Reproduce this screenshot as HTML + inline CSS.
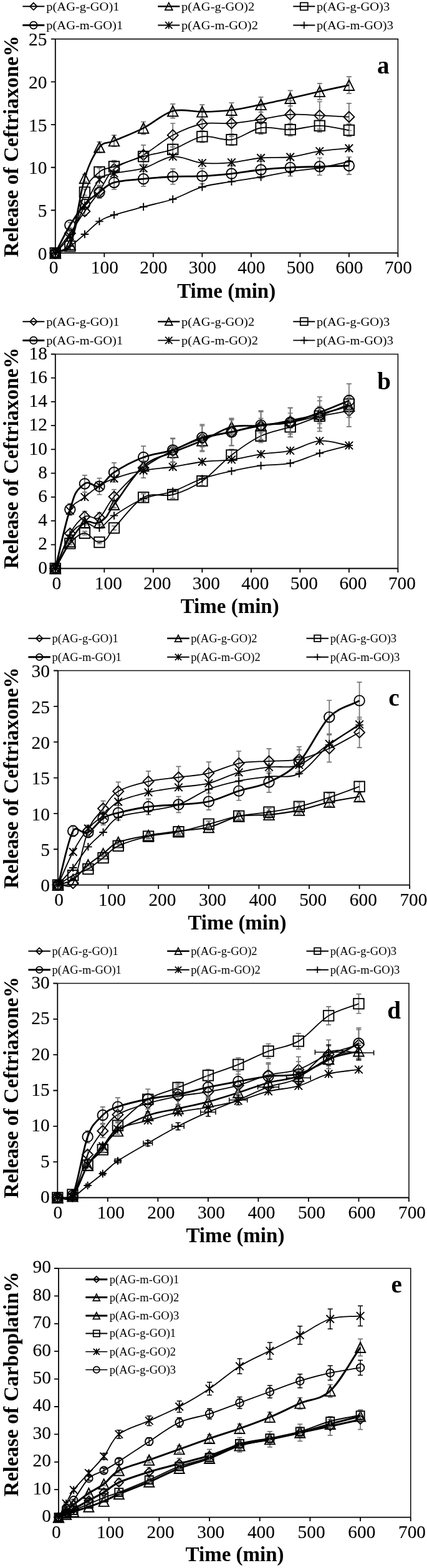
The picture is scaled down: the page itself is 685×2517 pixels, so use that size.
<!DOCTYPE html><html><head><meta charset="utf-8"><title>Release profiles</title><style>html,body{margin:0;padding:0;background:#fff}svg{display:block}text{font-family:"Liberation Serif",serif;fill:#000}.tk{stroke:#000;stroke-width:.12px}</style></head><body>
<svg width="685" height="2517" viewBox="0 0 685 2517">
<rect width="685" height="2517" fill="#fff"/>
<g>
<path d="M88.8 62.6H638.4V406.2" fill="none" stroke="#111" stroke-width="1.6"/>
<path d="M88.8 62.6V406.2H638.4M88.8 406.2h-7M88.8 337.48h-7M88.8 268.76h-7M88.8 200.04h-7M88.8 131.32h-7M88.8 62.6h-7M88.8 406.2v6.5M167.31 406.2v6.5M245.83 406.2v6.5M324.34 406.2v6.5M402.86 406.2v6.5M481.37 406.2v6.5M559.89 406.2v6.5M638.4 406.2v6.5" fill="none" stroke="#000" stroke-width="1.8"/>
<text transform="translate(75.4 416.85) scale(1.03 1)" font-size="28.5" text-anchor="end" class="tk">0</text>
<text transform="translate(75.4 348.13) scale(1.03 1)" font-size="28.5" text-anchor="end" class="tk">5</text>
<text transform="translate(75.4 279.41) scale(1.03 1)" font-size="28.5" text-anchor="end" class="tk">10</text>
<text transform="translate(75.4 210.69) scale(1.03 1)" font-size="28.5" text-anchor="end" class="tk">15</text>
<text transform="translate(75.4 141.97) scale(1.03 1)" font-size="28.5" text-anchor="end" class="tk">20</text>
<text transform="translate(75.4 73.25) scale(1.03 1)" font-size="28.5" text-anchor="end" class="tk">25</text>
<text transform="translate(86.2 439.2) scale(1.03 1)" font-size="28.5" text-anchor="middle" class="tk">0</text>
<text transform="translate(167.81 439.2) scale(1.03 1)" font-size="28.5" text-anchor="middle" class="tk">100</text>
<text transform="translate(246.33 439.2) scale(1.03 1)" font-size="28.5" text-anchor="middle" class="tk">200</text>
<text transform="translate(324.84 439.2) scale(1.03 1)" font-size="28.5" text-anchor="middle" class="tk">300</text>
<text transform="translate(403.36 439.2) scale(1.03 1)" font-size="28.5" text-anchor="middle" class="tk">400</text>
<text transform="translate(481.87 439.2) scale(1.03 1)" font-size="28.5" text-anchor="middle" class="tk">500</text>
<text transform="translate(560.39 439.2) scale(1.03 1)" font-size="28.5" text-anchor="middle" class="tk">600</text>
<text transform="translate(638.9 439.2) scale(1.03 1)" font-size="28.5" text-anchor="middle" class="tk">700</text>
<text x="363.2" y="477.5" font-size="33" font-weight="bold" text-anchor="middle">Time (min)</text>
<text transform="translate(28.6 235) rotate(-90)" font-size="33.5" font-weight="bold" text-anchor="middle">Release of Ceftriaxone%</text>
<text x="605" y="118.2" font-size="39.2" font-weight="bold">a</text>
<path d="M112.35 371.43V377.75M108.35 371.43h8M108.35 377.75h8M135.91 332.57V345.96M131.91 332.57h8M131.91 345.96h8M159.46 297.35V317.14M155.46 297.35h8M155.46 317.14h8M183.02 257.59V284.61M179.02 257.59h8M179.02 284.61h8M230.13 232.94V264.44M226.13 232.94h8M226.13 264.44h8M277.23 198.02V235.87M273.23 198.02h8M273.23 235.87h8M324.34 178.06V219.54M320.34 178.06h8M320.34 219.54h8M371.45 177.16V218.8M367.45 177.16h8M367.45 218.8h8M418.56 170.05V212.99M414.56 170.05h8M414.56 212.99h8M465.67 161.74V206.18M461.67 161.74h8M461.67 206.18h8M512.78 163.25V207.42M508.78 163.25h8M508.78 207.42h8M559.89 165.82V209.52M555.89 165.82h8M555.89 209.52h8" fill="none" stroke="#747474" stroke-width="1.7"/>
<path d="M88.8 406.2C96.65 395.66 104.5 385.74 112.35 374.59C120.21 363.43 128.06 350.49 135.91 339.27C143.76 328.04 151.61 318.6 159.46 307.24C167.31 295.88 171.24 280.85 183.02 271.1C194.79 261.34 214.42 257.72 230.13 248.69C245.83 239.67 261.53 225.26 277.23 216.95C292.94 208.63 308.64 201.96 324.34 198.8C340.05 195.64 355.75 199.19 371.45 197.98C387.15 196.76 402.86 193.86 418.56 191.52C434.26 189.18 449.97 184.99 465.67 183.96C481.37 182.93 497.07 184.72 512.78 185.33C528.48 185.95 544.18 186.89 559.89 187.67" fill="none" stroke="#000" stroke-width="1.81" stroke-linejoin="round"/>
<path d="M88.8 397.7L97.3 406.2L88.8 414.7L80.3 406.2Z" fill="none" stroke="#000" stroke-width="1.9"/>
<path d="M112.35 366.09L120.85 374.59L112.35 383.09L103.85 374.59Z" fill="none" stroke="#000" stroke-width="1.9"/>
<path d="M135.91 330.77L144.41 339.27L135.91 347.77L127.41 339.27Z" fill="none" stroke="#000" stroke-width="1.9"/>
<path d="M159.46 298.74L167.96 307.24L159.46 315.74L150.96 307.24Z" fill="none" stroke="#000" stroke-width="1.9"/>
<path d="M183.02 262.6L191.52 271.1L183.02 279.6L174.52 271.1Z" fill="none" stroke="#000" stroke-width="1.9"/>
<path d="M230.13 240.19L238.63 248.69L230.13 257.19L221.63 248.69Z" fill="none" stroke="#000" stroke-width="1.9"/>
<path d="M277.23 208.45L285.73 216.95L277.23 225.45L268.73 216.95Z" fill="none" stroke="#000" stroke-width="1.9"/>
<path d="M324.34 190.3L332.84 198.8L324.34 207.3L315.84 198.8Z" fill="none" stroke="#000" stroke-width="1.9"/>
<path d="M371.45 189.48L379.95 197.98L371.45 206.48L362.95 197.98Z" fill="none" stroke="#000" stroke-width="1.9"/>
<path d="M418.56 183.02L427.06 191.52L418.56 200.02L410.06 191.52Z" fill="none" stroke="#000" stroke-width="1.9"/>
<path d="M465.67 175.46L474.17 183.96L465.67 192.46L457.17 183.96Z" fill="none" stroke="#000" stroke-width="1.9"/>
<path d="M512.78 176.83L521.28 185.33L512.78 193.83L504.28 185.33Z" fill="none" stroke="#000" stroke-width="1.9"/>
<path d="M559.89 179.17L568.39 187.67L559.89 196.17L551.39 187.67Z" fill="none" stroke="#000" stroke-width="1.9"/>
<path d="M135.91 279.93V291.95M131.91 279.93h8M131.91 291.95h8M159.46 227.83V244.82M155.46 227.83h8M155.46 244.82h8M183.02 217.15V235.16M179.02 217.15h8M179.02 235.16h8M230.13 195.5V215.57M226.13 195.5h8M226.13 215.57h8M277.23 166.93V189.72M273.23 166.93h8M273.23 189.72h8M324.34 168.09V190.76M320.34 168.09h8M320.34 190.76h8M371.45 165.2V188.15M367.45 165.2h8M367.45 188.15h8M418.56 155.96V179.8M414.56 155.96h8M414.56 179.8h8M465.67 145.28V170.13M461.67 145.28h8M461.67 170.13h8M512.78 133.88V159.82M508.78 133.88h8M508.78 159.82h8M559.89 123.2V150.16M555.89 123.2h8M555.89 150.16h8" fill="none" stroke="#747474" stroke-width="1.7"/>
<path d="M88.8 406.2C100.58 399.33 107.38 405.15 112.35 392.46C120.21 372.41 128.06 311.96 135.91 285.94C143.76 259.92 151.61 246.29 159.46 236.32C167.4 226.25 171.26 231.28 183.02 226.15C194.79 221.02 214.42 213.51 230.13 205.54C245.83 197.57 261.53 182.68 277.23 178.32C292.94 173.97 308.64 179.7 324.34 179.42C340.05 179.15 355.75 178.6 371.45 176.68C387.15 174.75 402.86 171.04 418.56 167.88C434.26 164.72 449.97 161.21 465.67 157.71C481.37 154.2 497.07 150.36 512.78 146.85C528.48 143.35 544.18 140.07 559.89 136.68" fill="none" stroke="#000" stroke-width="2.61" stroke-linejoin="round"/>
<path d="M88.8 397.95L97.05 414.45L80.55 414.45Z" fill="none" stroke="#000" stroke-width="1.9" stroke-linejoin="miter"/>
<path d="M112.35 384.21L120.6 400.71L104.1 400.71Z" fill="none" stroke="#000" stroke-width="1.9" stroke-linejoin="miter"/>
<path d="M135.91 277.69L144.16 294.19L127.66 294.19Z" fill="none" stroke="#000" stroke-width="1.9" stroke-linejoin="miter"/>
<path d="M159.46 228.07L167.71 244.57L151.21 244.57Z" fill="none" stroke="#000" stroke-width="1.9" stroke-linejoin="miter"/>
<path d="M183.02 217.9L191.27 234.4L174.77 234.4Z" fill="none" stroke="#000" stroke-width="1.9" stroke-linejoin="miter"/>
<path d="M230.13 197.29L238.38 213.79L221.88 213.79Z" fill="none" stroke="#000" stroke-width="1.9" stroke-linejoin="miter"/>
<path d="M277.23 170.07L285.48 186.57L268.98 186.57Z" fill="none" stroke="#000" stroke-width="1.9" stroke-linejoin="miter"/>
<path d="M324.34 171.17L332.59 187.67L316.09 187.67Z" fill="none" stroke="#000" stroke-width="1.9" stroke-linejoin="miter"/>
<path d="M371.45 168.43L379.7 184.93L363.2 184.93Z" fill="none" stroke="#000" stroke-width="1.9" stroke-linejoin="miter"/>
<path d="M418.56 159.63L426.81 176.13L410.31 176.13Z" fill="none" stroke="#000" stroke-width="1.9" stroke-linejoin="miter"/>
<path d="M465.67 149.46L473.92 165.96L457.42 165.96Z" fill="none" stroke="#000" stroke-width="1.9" stroke-linejoin="miter"/>
<path d="M512.78 138.6L521.03 155.1L504.53 155.1Z" fill="none" stroke="#000" stroke-width="1.9" stroke-linejoin="miter"/>
<path d="M559.89 128.43L568.14 144.93L551.64 144.93Z" fill="none" stroke="#000" stroke-width="1.9" stroke-linejoin="miter"/>
<path d="M135.91 303.74V313.5M131.91 303.74h8M131.91 313.5h8M159.46 269.54V282.55M155.46 269.54h8M155.46 282.55h8M183.02 260.44V274.33M179.02 260.44h8M179.02 274.33h8M230.13 243.42V258.92M226.13 243.42h8M226.13 258.92h8M277.23 231.58V248.21M273.23 231.58h8M273.23 248.21h8M324.34 209.94V228.63M320.34 209.94h8M320.34 228.63h8M371.45 215.13V233.33M367.45 215.13h8M367.45 233.33h8M418.56 195.22V215.31M414.56 195.22h8M414.56 215.31h8M465.67 198.25V218.05M461.67 198.25h8M461.67 218.05h8M512.78 191.61V212.05M508.78 191.61h8M508.78 212.05h8M559.89 199.11V218.83M555.89 199.11h8M555.89 218.83h8" fill="none" stroke="#747474" stroke-width="1.7"/>
<path d="M88.8 406.2C100.58 400.7 106.7 406.91 112.35 395.2C120.21 378.94 128.06 328.48 135.91 308.62C143.3 289.93 144.34 289.28 159.46 276.04C167.31 269.17 171.24 271.53 183.02 267.39C194.79 263.24 214.42 255.75 230.13 251.17C245.83 246.59 261.53 245.21 277.23 239.9C292.94 234.58 308.64 221.89 324.34 219.28C340.05 216.67 355.75 226.57 371.45 224.23C387.15 221.89 402.86 207.94 418.56 205.26C434.26 202.58 449.97 208.72 465.67 208.15C481.37 207.58 497.07 201.69 512.78 201.83C528.48 201.96 544.18 206.59 559.89 208.97" fill="none" stroke="#000" stroke-width="1.81" stroke-linejoin="round"/>
<rect x="80.55" y="397.95" width="16.5" height="16.5" fill="none" stroke="#000" stroke-width="1.9"/>
<rect x="104.1" y="386.95" width="16.5" height="16.5" fill="none" stroke="#000" stroke-width="1.9"/>
<rect x="127.66" y="300.37" width="16.5" height="16.5" fill="none" stroke="#000" stroke-width="1.9"/>
<rect x="151.21" y="267.79" width="16.5" height="16.5" fill="none" stroke="#000" stroke-width="1.9"/>
<rect x="174.77" y="259.14" width="16.5" height="16.5" fill="none" stroke="#000" stroke-width="1.9"/>
<rect x="221.88" y="242.92" width="16.5" height="16.5" fill="none" stroke="#000" stroke-width="1.9"/>
<rect x="268.98" y="231.65" width="16.5" height="16.5" fill="none" stroke="#000" stroke-width="1.9"/>
<rect x="316.09" y="211.03" width="16.5" height="16.5" fill="none" stroke="#000" stroke-width="1.9"/>
<rect x="363.2" y="215.98" width="16.5" height="16.5" fill="none" stroke="#000" stroke-width="1.9"/>
<rect x="410.31" y="197.01" width="16.5" height="16.5" fill="none" stroke="#000" stroke-width="1.9"/>
<rect x="457.42" y="199.9" width="16.5" height="16.5" fill="none" stroke="#000" stroke-width="1.9"/>
<rect x="504.53" y="193.58" width="16.5" height="16.5" fill="none" stroke="#000" stroke-width="1.9"/>
<rect x="551.64" y="200.72" width="16.5" height="16.5" fill="none" stroke="#000" stroke-width="1.9"/>
<path d="M112.35 357.07V366M108.35 357.07h8M108.35 366h8M135.91 320.03V335.69M131.91 320.03h8M131.91 335.69h8M159.46 298.86V318.38M155.46 298.86h8M155.46 318.38h8M183.02 281.62V304.27M179.02 281.62h8M179.02 304.27h8M230.13 275.27V299.08M226.13 275.27h8M226.13 299.08h8M277.23 271.19V295.74M273.23 271.19h8M273.23 295.74h8M324.34 270.29V295M320.34 270.29h8M320.34 295h8M371.45 266.05V291.53M367.45 266.05h8M367.45 291.53h8M418.56 259.1V285.84M414.56 259.1h8M414.56 285.84h8M465.67 255.17V282.63M461.67 255.17h8M461.67 282.63h8M512.78 253.5V281.27M508.78 253.5h8M508.78 281.27h8M559.89 251.99V280.03M555.89 251.99h8M555.89 280.03h8" fill="none" stroke="#747474" stroke-width="1.7"/>
<path d="M88.8 406.2C96.65 391.31 104.5 374.59 112.35 361.53C120.21 348.48 128.06 336.68 135.91 327.86C143.76 319.04 151.61 314.44 159.46 308.62C167.31 302.8 171.24 296.52 183.02 292.95C194.79 289.38 214.42 288.76 230.13 287.18C245.83 285.6 261.53 284.22 277.23 283.47C292.94 282.71 308.64 283.42 324.34 282.64C340.05 281.86 355.75 280.49 371.45 278.79C387.15 277.1 402.86 274.12 418.56 272.47C434.26 270.82 449.97 269.74 465.67 268.9C481.37 268.05 497.07 267.87 512.78 267.39C528.48 266.9 544.18 266.47 559.89 266.01" fill="none" stroke="#000" stroke-width="2.83" stroke-linejoin="round"/>
<circle cx="88.8" cy="406.2" r="8.25" fill="none" stroke="#000" stroke-width="1.9"/>
<circle cx="112.35" cy="361.53" r="8.25" fill="none" stroke="#000" stroke-width="1.9"/>
<circle cx="135.91" cy="327.86" r="8.25" fill="none" stroke="#000" stroke-width="1.9"/>
<circle cx="159.46" cy="308.62" r="8.25" fill="none" stroke="#000" stroke-width="1.9"/>
<circle cx="183.02" cy="292.95" r="8.25" fill="none" stroke="#000" stroke-width="1.9"/>
<circle cx="230.13" cy="287.18" r="8.25" fill="none" stroke="#000" stroke-width="1.9"/>
<circle cx="277.23" cy="283.47" r="8.25" fill="none" stroke="#000" stroke-width="1.9"/>
<circle cx="324.34" cy="282.64" r="8.25" fill="none" stroke="#000" stroke-width="1.9"/>
<circle cx="371.45" cy="278.79" r="8.25" fill="none" stroke="#000" stroke-width="1.9"/>
<circle cx="418.56" cy="272.47" r="8.25" fill="none" stroke="#000" stroke-width="1.9"/>
<circle cx="465.67" cy="268.9" r="8.25" fill="none" stroke="#000" stroke-width="1.9"/>
<circle cx="512.78" cy="267.39" r="8.25" fill="none" stroke="#000" stroke-width="1.9"/>
<circle cx="559.89" cy="266.01" r="8.25" fill="none" stroke="#000" stroke-width="1.9"/>
<path d="M88.8 406.2C96.65 397.04 104.5 391.31 112.35 378.71C120.21 366.11 128.06 345.66 135.91 330.61C143.76 315.56 151.61 297.12 159.46 288.41C167.31 279.71 171.24 281.43 183.02 278.38C194.79 275.33 214.42 274.62 230.13 270.13C245.83 265.64 261.53 252.86 277.23 251.44C292.94 250.02 308.64 260.06 324.34 261.61C340.05 263.17 355.75 262.14 371.45 260.79C387.15 259.44 402.86 254.97 418.56 253.5C434.26 252.04 449.97 253.8 465.67 251.99C481.37 250.18 497.07 244.98 512.78 242.65C528.48 240.31 544.18 239.53 559.89 237.97" fill="none" stroke="#000" stroke-width="1.81" stroke-linejoin="round"/>
<path d="M82.55 399.95L95.05 412.45M82.55 412.45L95.05 399.95M88.8 399.95L88.8 412.45" fill="none" stroke="#000" stroke-width="1.9"/>
<path d="M106.1 372.46L118.6 384.96M106.1 384.96L118.6 372.46M112.35 372.46L112.35 384.96" fill="none" stroke="#000" stroke-width="1.9"/>
<path d="M129.66 324.36L142.16 336.86M129.66 336.86L142.16 324.36M135.91 324.36L135.91 336.86" fill="none" stroke="#000" stroke-width="1.9"/>
<path d="M153.21 282.16L165.71 294.66M153.21 294.66L165.71 282.16M159.46 282.16L159.46 294.66" fill="none" stroke="#000" stroke-width="1.9"/>
<path d="M176.77 272.13L189.27 284.63M176.77 284.63L189.27 272.13M183.02 272.13L183.02 284.63" fill="none" stroke="#000" stroke-width="1.9"/>
<path d="M223.88 263.88L236.38 276.38M223.88 276.38L236.38 263.88M230.13 263.88L230.13 276.38" fill="none" stroke="#000" stroke-width="1.9"/>
<path d="M270.98 245.19L283.48 257.69M270.98 257.69L283.48 245.19M277.23 245.19L277.23 257.69" fill="none" stroke="#000" stroke-width="1.9"/>
<path d="M318.09 255.36L330.59 267.86M318.09 267.86L330.59 255.36M324.34 255.36L324.34 267.86" fill="none" stroke="#000" stroke-width="1.9"/>
<path d="M365.2 254.54L377.7 267.04M365.2 267.04L377.7 254.54M371.45 254.54L371.45 267.04" fill="none" stroke="#000" stroke-width="1.9"/>
<path d="M412.31 247.25L424.81 259.75M412.31 259.75L424.81 247.25M418.56 247.25L418.56 259.75" fill="none" stroke="#000" stroke-width="1.9"/>
<path d="M459.42 245.74L471.92 258.24M459.42 258.24L471.92 245.74M465.67 245.74L465.67 258.24" fill="none" stroke="#000" stroke-width="1.9"/>
<path d="M506.53 236.4L519.03 248.9M506.53 248.9L519.03 236.4M512.78 236.4L512.78 248.9" fill="none" stroke="#000" stroke-width="1.9"/>
<path d="M553.64 231.72L566.14 244.22M553.64 244.22L566.14 231.72M559.89 231.72L559.89 244.22" fill="none" stroke="#000" stroke-width="1.9"/>
<path d="M88.8 406.2C96.65 402.53 104.5 400.24 112.35 395.2C120.21 390.17 128.06 382.61 135.91 375.96C143.76 369.32 151.61 360.5 159.46 355.35C167.31 350.19 171.24 348.93 183.02 345.04C194.79 341.15 214.42 336.2 230.13 331.98C245.83 327.77 261.53 325.04 277.23 319.75C292.94 314.46 308.64 304.95 324.34 300.23C340.05 295.51 355.75 294.12 371.45 291.44C387.15 288.76 402.86 286.83 418.56 284.15C434.26 281.47 449.97 277.81 465.67 275.36C481.37 272.91 497.07 272.13 512.78 269.45C528.48 266.77 544.18 262.67 559.89 259.28" fill="none" stroke="#000" stroke-width="1.81" stroke-linejoin="round"/>
<path d="M82.55 406.2L95.05 406.2M88.8 399.95L88.8 412.45" fill="none" stroke="#000" stroke-width="1.9"/>
<path d="M106.1 395.2L118.6 395.2M112.35 388.95L112.35 401.45" fill="none" stroke="#000" stroke-width="1.9"/>
<path d="M129.66 375.96L142.16 375.96M135.91 369.71L135.91 382.21" fill="none" stroke="#000" stroke-width="1.9"/>
<path d="M153.21 355.35L165.71 355.35M159.46 349.1L159.46 361.6" fill="none" stroke="#000" stroke-width="1.9"/>
<path d="M176.77 345.04L189.27 345.04M183.02 338.79L183.02 351.29" fill="none" stroke="#000" stroke-width="1.9"/>
<path d="M223.88 331.98L236.38 331.98M230.13 325.73L230.13 338.23" fill="none" stroke="#000" stroke-width="1.9"/>
<path d="M270.98 319.75L283.48 319.75M277.23 313.5L277.23 326" fill="none" stroke="#000" stroke-width="1.9"/>
<path d="M318.09 300.23L330.59 300.23M324.34 293.98L324.34 306.48" fill="none" stroke="#000" stroke-width="1.9"/>
<path d="M365.2 291.44L377.7 291.44M371.45 285.19L371.45 297.69" fill="none" stroke="#000" stroke-width="1.9"/>
<path d="M412.31 284.15L424.81 284.15M418.56 277.9L418.56 290.4" fill="none" stroke="#000" stroke-width="1.9"/>
<path d="M459.42 275.36L471.92 275.36M465.67 269.11L465.67 281.61" fill="none" stroke="#000" stroke-width="1.9"/>
<path d="M506.53 269.45L519.03 269.45M512.78 263.2L512.78 275.7" fill="none" stroke="#000" stroke-width="1.9"/>
<path d="M553.64 259.28L566.14 259.28M559.89 253.03L559.89 265.53" fill="none" stroke="#000" stroke-width="1.9"/>
<path d="M36.3 10.3H71.3" stroke="#000" stroke-width="1.9"/>
<path d="M53.8 4.6L59.5 10.3L53.8 16L48.1 10.3Z" fill="none" stroke="#000" stroke-width="1.75"/>
<text transform="translate(74.3 16.86) scale(1.045 1)" font-size="19.62">p(AG-g-GO)1</text>
<path d="M253.3 10.3H288.3" stroke="#000" stroke-width="2.5"/>
<path d="M270.8 4.4L276.7 16.2L264.9 16.2Z" fill="none" stroke="#000" stroke-width="1.75" stroke-linejoin="miter"/>
<text transform="translate(291 16.86) scale(1.045 1)" font-size="19.62">p(AG-g-GO)2</text>
<path d="M470.3 10.3H505.3" stroke="#000" stroke-width="1.9"/>
<rect x="481.8" y="4.3" width="12" height="12" fill="none" stroke="#000" stroke-width="1.75"/>
<text transform="translate(508 16.86) scale(1.045 1)" font-size="19.62">p(AG-g-GO)3</text>
<path d="M36.3 40.5H71.3" stroke="#000" stroke-width="3.0"/>
<circle cx="53.8" cy="40.5" r="5.8" fill="none" stroke="#000" stroke-width="1.75"/>
<text transform="translate(74.3 47.06) scale(1.045 1)" font-size="19.62">p(AG-m-GO)1</text>
<path d="M253.3 40.5H288.3" stroke="#000" stroke-width="1.9"/>
<path d="M265.1 34.8L276.5 46.2M265.1 46.2L276.5 34.8M270.8 34.8L270.8 46.2" fill="none" stroke="#000" stroke-width="1.75"/>
<text transform="translate(291 47.06) scale(1.045 1)" font-size="19.62">p(AG-m-GO)2</text>
<path d="M470.3 40.5H505.3" stroke="#000" stroke-width="1.9"/>
<path d="M482 40.5L493.6 40.5M487.8 34.7L487.8 46.3" fill="none" stroke="#000" stroke-width="1.75"/>
<text transform="translate(508 47.06) scale(1.045 1)" font-size="19.62">p(AG-m-GO)3</text>
</g>
<g>
<path d="M88.8 568.5H638.4V912.5" fill="none" stroke="#111" stroke-width="1.6"/>
<path d="M88.8 568.5V912.5H638.4M88.8 912.5h-7M88.8 874.28h-7M88.8 836.06h-7M88.8 797.83h-7M88.8 759.61h-7M88.8 721.39h-7M88.8 683.17h-7M88.8 644.94h-7M88.8 606.72h-7M88.8 568.5h-7M88.8 912.5v6.5M167.31 912.5v6.5M245.83 912.5v6.5M324.34 912.5v6.5M402.86 912.5v6.5M481.37 912.5v6.5M559.89 912.5v6.5M638.4 912.5v6.5" fill="none" stroke="#000" stroke-width="1.8"/>
<text transform="translate(75.9 920.65) scale(1.03 1)" font-size="28.5" text-anchor="end" class="tk">0</text>
<text transform="translate(75.9 882.43) scale(1.03 1)" font-size="28.5" text-anchor="end" class="tk">2</text>
<text transform="translate(75.9 844.2) scale(1.03 1)" font-size="28.5" text-anchor="end" class="tk">4</text>
<text transform="translate(75.9 805.98) scale(1.03 1)" font-size="28.5" text-anchor="end" class="tk">6</text>
<text transform="translate(75.9 767.76) scale(1.03 1)" font-size="28.5" text-anchor="end" class="tk">8</text>
<text transform="translate(75.9 729.54) scale(1.03 1)" font-size="28.5" text-anchor="end" class="tk">10</text>
<text transform="translate(75.9 691.31) scale(1.03 1)" font-size="28.5" text-anchor="end" class="tk">12</text>
<text transform="translate(75.9 653.09) scale(1.03 1)" font-size="28.5" text-anchor="end" class="tk">14</text>
<text transform="translate(75.9 614.87) scale(1.03 1)" font-size="28.5" text-anchor="end" class="tk">16</text>
<text transform="translate(75.9 576.65) scale(1.03 1)" font-size="28.5" text-anchor="end" class="tk">18</text>
<text transform="translate(90.8 945.5) scale(1.03 1)" font-size="28.5" text-anchor="middle" class="tk">0</text>
<text transform="translate(173.81 945.5) scale(1.03 1)" font-size="28.5" text-anchor="middle" class="tk">100</text>
<text transform="translate(252.33 945.5) scale(1.03 1)" font-size="28.5" text-anchor="middle" class="tk">200</text>
<text transform="translate(330.84 945.5) scale(1.03 1)" font-size="28.5" text-anchor="middle" class="tk">300</text>
<text transform="translate(409.36 945.5) scale(1.03 1)" font-size="28.5" text-anchor="middle" class="tk">400</text>
<text transform="translate(487.87 945.5) scale(1.03 1)" font-size="28.5" text-anchor="middle" class="tk">500</text>
<text transform="translate(566.39 945.5) scale(1.03 1)" font-size="28.5" text-anchor="middle" class="tk">600</text>
<text transform="translate(644.9 945.5) scale(1.03 1)" font-size="28.5" text-anchor="middle" class="tk">700</text>
<text x="368.7" y="983.6" font-size="33" font-weight="bold" text-anchor="middle">Time (min)</text>
<text transform="translate(28.6 735.7) rotate(-90)" font-size="33.5" font-weight="bold" text-anchor="middle">Release of Ceftriaxone%</text>
<text x="605.3" y="624.6" font-size="39.2" font-weight="bold">b</text>
<path d="M112.35 850.69V861.93M108.35 850.69h8M108.35 861.93h8M135.91 820.84V837.51M131.91 820.84h8M131.91 837.51h8M159.46 822.74V839.06M155.46 822.74h8M155.46 839.06h8M183.02 785.74V808.78M179.02 785.74h8M179.02 808.78h8M230.13 734.86V767.16M226.13 734.86h8M226.13 767.16h8M277.23 704.38V742.22M273.23 704.38h8M273.23 742.22h8M324.34 683.36V725.02M320.34 683.36h8M320.34 725.02h8M371.45 671.59V715.39M367.45 671.59h8M367.45 715.39h8M418.56 660.86V706.62M414.56 660.86h8M414.56 706.62h8M465.67 654.56V701.46M461.67 654.56h8M461.67 701.46h8M512.78 643.42V692.34M508.78 643.42h8M508.78 692.34h8M559.89 634.38V684.94M555.89 634.38h8M555.89 684.94h8" fill="none" stroke="#747474" stroke-width="1.7"/>
<path d="M88.8 912.5C96.65 893.77 104.5 870.2 112.35 856.31C120.21 842.43 128.06 833.41 135.91 829.18C143.76 824.94 151.61 836.21 159.46 830.9C167.31 825.58 171.24 810.57 183.02 797.26C194.79 783.95 214.42 763.34 230.13 751.01C245.83 738.68 261.53 731.1 277.23 723.3C292.94 715.5 308.64 709.16 324.34 704.19C340.05 699.22 355.75 696.89 371.45 693.49C387.15 690.08 402.86 686.32 418.56 683.74C434.26 681.16 449.97 680.65 465.67 678.01C481.37 675.36 497.07 670.94 512.78 667.88C528.48 664.82 544.18 662.4 559.89 659.66" fill="none" stroke="#000" stroke-width="1.81" stroke-linejoin="round"/>
<path d="M88.8 904L97.3 912.5L88.8 921L80.3 912.5Z" fill="none" stroke="#000" stroke-width="1.9"/>
<path d="M112.35 847.81L120.85 856.31L112.35 864.81L103.85 856.31Z" fill="none" stroke="#000" stroke-width="1.9"/>
<path d="M135.91 820.68L144.41 829.18L135.91 837.68L127.41 829.18Z" fill="none" stroke="#000" stroke-width="1.9"/>
<path d="M159.46 822.4L167.96 830.9L159.46 839.4L150.96 830.9Z" fill="none" stroke="#000" stroke-width="1.9"/>
<path d="M183.02 788.76L191.52 797.26L183.02 805.76L174.52 797.26Z" fill="none" stroke="#000" stroke-width="1.9"/>
<path d="M230.13 742.51L238.63 751.01L230.13 759.51L221.63 751.01Z" fill="none" stroke="#000" stroke-width="1.9"/>
<path d="M277.23 714.8L285.73 723.3L277.23 731.8L268.73 723.3Z" fill="none" stroke="#000" stroke-width="1.9"/>
<path d="M324.34 695.69L332.84 704.19L324.34 712.69L315.84 704.19Z" fill="none" stroke="#000" stroke-width="1.9"/>
<path d="M371.45 684.99L379.95 693.49L371.45 701.99L362.95 693.49Z" fill="none" stroke="#000" stroke-width="1.9"/>
<path d="M418.56 675.24L427.06 683.74L418.56 692.24L410.06 683.74Z" fill="none" stroke="#000" stroke-width="1.9"/>
<path d="M465.67 669.51L474.17 678.01L465.67 686.51L457.17 678.01Z" fill="none" stroke="#000" stroke-width="1.9"/>
<path d="M512.78 659.38L521.28 667.88L512.78 676.38L504.28 667.88Z" fill="none" stroke="#000" stroke-width="1.9"/>
<path d="M559.89 651.16L568.39 659.66L559.89 668.16L551.39 659.66Z" fill="none" stroke="#000" stroke-width="1.9"/>
<path d="M112.35 867.35V871.65M108.35 867.35h8M108.35 871.65h8M135.91 835.04V842.42M131.91 835.04h8M131.91 842.42h8M159.46 835.04V842.42M155.46 835.04h8M155.46 842.42h8M183.02 804.94V815.19M179.02 804.94h8M179.02 815.19h8M230.13 739.93V756.36M226.13 739.93h8M226.13 756.36h8M277.23 716.85V735.48M273.23 716.85h8M273.23 735.48h8M324.34 696.98V717.51M320.34 696.98h8M320.34 717.51h8M371.45 673.91V696.63M367.45 673.91h8M367.45 696.63h8M418.56 671.7V694.63M414.56 671.7h8M414.56 694.63h8M465.67 663.27V687.01M461.67 663.27h8M461.67 687.01h8M512.78 652.44V677.2M508.78 652.44h8M508.78 677.2h8M559.89 638.79V664.86M555.89 638.79h8M555.89 664.86h8" fill="none" stroke="#747474" stroke-width="1.7"/>
<path d="M88.8 912.5C96.65 898.17 104.5 881.79 112.35 869.5C120.21 857.21 128.06 843.86 135.91 838.73C143.76 833.6 151.61 843.51 159.46 838.73C175.31 829.09 171.61 824.69 183.02 810.06C194.79 794.97 214.42 762.13 230.13 748.14C245.83 734.16 261.53 732.98 277.23 726.17C292.94 719.35 308.64 714.06 324.34 707.25C340.05 700.43 355.75 689.28 371.45 685.27C387.15 681.26 402.86 684.85 418.56 683.17C434.26 681.48 449.97 678.2 465.67 675.14C481.37 672.08 497.07 668.71 512.78 664.82C528.48 660.93 544.18 656.16 559.89 651.82" fill="none" stroke="#000" stroke-width="2.61" stroke-linejoin="round"/>
<path d="M88.8 904.25L97.05 920.75L80.55 920.75Z" fill="none" stroke="#000" stroke-width="1.9" stroke-linejoin="miter"/>
<path d="M112.35 861.25L120.6 877.75L104.1 877.75Z" fill="none" stroke="#000" stroke-width="1.9" stroke-linejoin="miter"/>
<path d="M135.91 830.48L144.16 846.98L127.66 846.98Z" fill="none" stroke="#000" stroke-width="1.9" stroke-linejoin="miter"/>
<path d="M159.46 830.48L167.71 846.98L151.21 846.98Z" fill="none" stroke="#000" stroke-width="1.9" stroke-linejoin="miter"/>
<path d="M183.02 801.81L191.27 818.31L174.77 818.31Z" fill="none" stroke="#000" stroke-width="1.9" stroke-linejoin="miter"/>
<path d="M230.13 739.89L238.38 756.39L221.88 756.39Z" fill="none" stroke="#000" stroke-width="1.9" stroke-linejoin="miter"/>
<path d="M277.23 717.92L285.48 734.42L268.98 734.42Z" fill="none" stroke="#000" stroke-width="1.9" stroke-linejoin="miter"/>
<path d="M324.34 699L332.59 715.5L316.09 715.5Z" fill="none" stroke="#000" stroke-width="1.9" stroke-linejoin="miter"/>
<path d="M371.45 677.02L379.7 693.52L363.2 693.52Z" fill="none" stroke="#000" stroke-width="1.9" stroke-linejoin="miter"/>
<path d="M418.56 674.92L426.81 691.42L410.31 691.42Z" fill="none" stroke="#000" stroke-width="1.9" stroke-linejoin="miter"/>
<path d="M465.67 666.89L473.92 683.39L457.42 683.39Z" fill="none" stroke="#000" stroke-width="1.9" stroke-linejoin="miter"/>
<path d="M512.78 656.57L521.03 673.07L504.53 673.07Z" fill="none" stroke="#000" stroke-width="1.9" stroke-linejoin="miter"/>
<path d="M559.89 643.57L568.14 660.07L551.64 660.07Z" fill="none" stroke="#000" stroke-width="1.9" stroke-linejoin="miter"/>
<path d="M112.35 870.36V874.37M108.35 870.36h8M108.35 874.37h8M135.91 852.9V858.58M131.91 852.9h8M131.91 858.58h8M159.46 868.35V872.56M155.46 868.35h8M155.46 872.56h8M183.02 844.27V850.77M179.02 844.27h8M179.02 850.77h8M230.13 792.7V804.11M226.13 792.7h8M226.13 804.11h8M277.23 788.09V799.94M273.23 788.09h8M273.23 799.94h8M324.34 765.21V779.24M320.34 765.21h8M320.34 779.24h8M371.45 721.47V739.66M367.45 721.47h8M367.45 739.66h8M418.56 689.16V710.43M414.56 689.16h8M414.56 710.43h8M465.67 673.91V696.63M461.67 673.91h8M461.67 696.63h8M512.78 655.65V680.11M508.78 655.65h8M508.78 680.11h8M559.89 635.58V661.95M555.89 635.58h8M555.89 661.95h8" fill="none" stroke="#747474" stroke-width="1.7"/>
<path d="M88.8 912.5C96.65 899.12 104.5 881.83 112.35 872.37C120.21 862.91 128.06 856.06 135.91 855.74C143.76 855.42 151.61 871.83 159.46 870.46C175.66 867.63 171.51 859.26 183.02 847.52C194.79 835.51 214.42 807.33 230.13 798.41C245.83 789.49 261.53 798.37 277.23 794.01C292.94 789.65 308.64 782.8 324.34 772.22C340.05 761.65 355.75 742.63 371.45 730.56C387.15 718.49 402.86 707.34 418.56 699.79C434.26 692.24 449.97 690.59 465.67 685.27C481.37 679.95 497.07 673.96 512.78 667.88C528.48 661.79 544.18 655.14 559.89 648.77" fill="none" stroke="#000" stroke-width="1.81" stroke-linejoin="round"/>
<rect x="80.55" y="904.25" width="16.5" height="16.5" fill="none" stroke="#000" stroke-width="1.9"/>
<rect x="104.1" y="864.12" width="16.5" height="16.5" fill="none" stroke="#000" stroke-width="1.9"/>
<rect x="127.66" y="847.49" width="16.5" height="16.5" fill="none" stroke="#000" stroke-width="1.9"/>
<rect x="151.21" y="862.21" width="16.5" height="16.5" fill="none" stroke="#000" stroke-width="1.9"/>
<rect x="174.77" y="839.27" width="16.5" height="16.5" fill="none" stroke="#000" stroke-width="1.9"/>
<rect x="221.88" y="790.16" width="16.5" height="16.5" fill="none" stroke="#000" stroke-width="1.9"/>
<rect x="268.98" y="785.76" width="16.5" height="16.5" fill="none" stroke="#000" stroke-width="1.9"/>
<rect x="316.09" y="763.97" width="16.5" height="16.5" fill="none" stroke="#000" stroke-width="1.9"/>
<rect x="363.2" y="722.31" width="16.5" height="16.5" fill="none" stroke="#000" stroke-width="1.9"/>
<rect x="410.31" y="691.54" width="16.5" height="16.5" fill="none" stroke="#000" stroke-width="1.9"/>
<rect x="457.42" y="677.02" width="16.5" height="16.5" fill="none" stroke="#000" stroke-width="1.9"/>
<rect x="504.53" y="659.63" width="16.5" height="16.5" fill="none" stroke="#000" stroke-width="1.9"/>
<rect x="551.64" y="640.52" width="16.5" height="16.5" fill="none" stroke="#000" stroke-width="1.9"/>
<path d="M112.35 808.23V827.19M108.35 808.23h8M108.35 827.19h8M135.91 762.82V790.04M131.91 762.82h8M131.91 790.04h8M159.46 767.66V793.99M155.46 767.66h8M155.46 793.99h8M183.02 742.85V773.7M179.02 742.85h8M179.02 773.7h8M230.13 716.15V751.85M226.13 716.15h8M226.13 751.85h8M277.23 703.33V741.36M273.23 703.33h8M273.23 741.36h8M324.34 681.26V723.3M320.34 681.26h8M320.34 723.3h8M371.45 671.59V715.39M367.45 671.59h8M367.45 715.39h8M418.56 659.39V705.41M414.56 659.39h8M414.56 705.41h8M465.67 654.56V701.46M461.67 654.56h8M461.67 701.46h8M512.78 637.11V687.18M508.78 637.11h8M508.78 687.18h8M559.89 616.09V669.98M555.89 616.09h8M555.89 669.98h8" fill="none" stroke="#747474" stroke-width="1.7"/>
<path d="M88.8 912.5C96.65 880.9 104.5 840.39 112.35 817.71C120.13 795.25 117.2 791.08 135.91 776.43C143.76 770.28 151.61 783.85 159.46 780.82C167.31 777.8 171.24 766.08 183.02 758.27C194.79 750.47 214.42 739.99 230.13 734C245.83 728.01 261.53 727.63 277.23 722.34C292.94 717.06 308.64 707.09 324.34 702.28C340.05 697.47 355.75 696.8 371.45 693.49C387.15 690.17 402.86 684.98 418.56 682.4C434.26 679.82 449.97 681.38 465.67 678.01C481.37 674.63 497.07 667.97 512.78 662.14C528.48 656.32 544.18 649.4 559.89 643.03" fill="none" stroke="#000" stroke-width="2.83" stroke-linejoin="round"/>
<circle cx="88.8" cy="912.5" r="8.25" fill="none" stroke="#000" stroke-width="1.9"/>
<circle cx="112.35" cy="817.71" r="8.25" fill="none" stroke="#000" stroke-width="1.9"/>
<circle cx="135.91" cy="776.43" r="8.25" fill="none" stroke="#000" stroke-width="1.9"/>
<circle cx="159.46" cy="780.82" r="8.25" fill="none" stroke="#000" stroke-width="1.9"/>
<circle cx="183.02" cy="758.27" r="8.25" fill="none" stroke="#000" stroke-width="1.9"/>
<circle cx="230.13" cy="734" r="8.25" fill="none" stroke="#000" stroke-width="1.9"/>
<circle cx="277.23" cy="722.34" r="8.25" fill="none" stroke="#000" stroke-width="1.9"/>
<circle cx="324.34" cy="702.28" r="8.25" fill="none" stroke="#000" stroke-width="1.9"/>
<circle cx="371.45" cy="693.49" r="8.25" fill="none" stroke="#000" stroke-width="1.9"/>
<circle cx="418.56" cy="682.4" r="8.25" fill="none" stroke="#000" stroke-width="1.9"/>
<circle cx="465.67" cy="678.01" r="8.25" fill="none" stroke="#000" stroke-width="1.9"/>
<circle cx="512.78" cy="662.14" r="8.25" fill="none" stroke="#000" stroke-width="1.9"/>
<circle cx="559.89" cy="643.03" r="8.25" fill="none" stroke="#000" stroke-width="1.9"/>
<path d="M88.8 912.5C96.65 881.6 104.5 838.92 112.35 819.81C118.48 804.91 123.65 808.28 135.91 797.83C143.76 791.14 151.61 784.65 159.46 779.68C167.31 774.71 171.24 772.1 183.02 768.02C194.79 763.94 214.42 758.31 230.13 755.22C245.83 752.13 261.53 751.81 277.23 749.48C292.94 747.16 308.64 743.21 324.34 741.26C340.05 739.32 355.75 739.86 371.45 737.82C387.15 735.79 402.86 731.45 418.56 729.03C434.26 726.61 449.97 726.84 465.67 723.3C481.37 719.76 497.07 709.19 512.78 707.82C528.48 706.45 544.18 712.66 559.89 715.08" fill="none" stroke="#000" stroke-width="1.81" stroke-linejoin="round"/>
<path d="M82.55 906.25L95.05 918.75M82.55 918.75L95.05 906.25M88.8 906.25L88.8 918.75" fill="none" stroke="#000" stroke-width="1.9"/>
<path d="M106.1 813.56L118.6 826.06M106.1 826.06L118.6 813.56M112.35 813.56L112.35 826.06" fill="none" stroke="#000" stroke-width="1.9"/>
<path d="M129.66 791.58L142.16 804.08M129.66 804.08L142.16 791.58M135.91 791.58L135.91 804.08" fill="none" stroke="#000" stroke-width="1.9"/>
<path d="M153.21 773.43L165.71 785.93M153.21 785.93L165.71 773.43M159.46 773.43L159.46 785.93" fill="none" stroke="#000" stroke-width="1.9"/>
<path d="M176.77 761.77L189.27 774.27M176.77 774.27L189.27 761.77M183.02 761.77L183.02 774.27" fill="none" stroke="#000" stroke-width="1.9"/>
<path d="M223.88 748.97L236.38 761.47M223.88 761.47L236.38 748.97M230.13 748.97L230.13 761.47" fill="none" stroke="#000" stroke-width="1.9"/>
<path d="M270.98 743.23L283.48 755.73M270.98 755.73L283.48 743.23M277.23 743.23L277.23 755.73" fill="none" stroke="#000" stroke-width="1.9"/>
<path d="M318.09 735.01L330.59 747.51M318.09 747.51L330.59 735.01M324.34 735.01L324.34 747.51" fill="none" stroke="#000" stroke-width="1.9"/>
<path d="M365.2 731.57L377.7 744.07M365.2 744.07L377.7 731.57M371.45 731.57L371.45 744.07" fill="none" stroke="#000" stroke-width="1.9"/>
<path d="M412.31 722.78L424.81 735.28M412.31 735.28L424.81 722.78M418.56 722.78L418.56 735.28" fill="none" stroke="#000" stroke-width="1.9"/>
<path d="M459.42 717.05L471.92 729.55M459.42 729.55L471.92 717.05M465.67 717.05L465.67 729.55" fill="none" stroke="#000" stroke-width="1.9"/>
<path d="M506.53 701.57L519.03 714.07M506.53 714.07L519.03 701.57M512.78 701.57L512.78 714.07" fill="none" stroke="#000" stroke-width="1.9"/>
<path d="M553.64 708.83L566.14 721.33M553.64 721.33L566.14 708.83M559.89 708.83L559.89 721.33" fill="none" stroke="#000" stroke-width="1.9"/>
<path d="M88.8 912.5C96.65 894.66 104.5 871.09 112.35 858.99C120.21 846.89 128.06 841.79 135.91 839.88C143.76 837.97 151.61 849.56 159.46 847.52C167.31 845.48 171.24 835.48 183.02 827.65C194.79 819.81 214.42 806.97 230.13 800.51C245.83 794.04 261.53 794.2 277.23 788.85C292.94 783.5 308.64 773.85 324.34 768.4C340.05 762.96 355.75 759.67 371.45 756.17C387.15 752.67 402.86 749.48 418.56 747.38C434.26 745.28 449.97 746.87 465.67 743.56C481.37 740.25 497.07 732.25 512.78 727.5C528.48 722.76 544.18 719.22 559.89 715.08" fill="none" stroke="#000" stroke-width="1.81" stroke-linejoin="round"/>
<path d="M82.55 912.5L95.05 912.5M88.8 906.25L88.8 918.75" fill="none" stroke="#000" stroke-width="1.9"/>
<path d="M106.1 858.99L118.6 858.99M112.35 852.74L112.35 865.24" fill="none" stroke="#000" stroke-width="1.9"/>
<path d="M129.66 839.88L142.16 839.88M135.91 833.63L135.91 846.13" fill="none" stroke="#000" stroke-width="1.9"/>
<path d="M153.21 847.52L165.71 847.52M159.46 841.27L159.46 853.77" fill="none" stroke="#000" stroke-width="1.9"/>
<path d="M176.77 827.65L189.27 827.65M183.02 821.4L183.02 833.9" fill="none" stroke="#000" stroke-width="1.9"/>
<path d="M223.88 800.51L236.38 800.51M230.13 794.26L230.13 806.76" fill="none" stroke="#000" stroke-width="1.9"/>
<path d="M270.98 788.85L283.48 788.85M277.23 782.6L277.23 795.1" fill="none" stroke="#000" stroke-width="1.9"/>
<path d="M318.09 768.4L330.59 768.4M324.34 762.15L324.34 774.65" fill="none" stroke="#000" stroke-width="1.9"/>
<path d="M365.2 756.17L377.7 756.17M371.45 749.92L371.45 762.42" fill="none" stroke="#000" stroke-width="1.9"/>
<path d="M412.31 747.38L424.81 747.38M418.56 741.13L418.56 753.63" fill="none" stroke="#000" stroke-width="1.9"/>
<path d="M459.42 743.56L471.92 743.56M465.67 737.31L465.67 749.81" fill="none" stroke="#000" stroke-width="1.9"/>
<path d="M506.53 727.5L519.03 727.5M512.78 721.25L512.78 733.75" fill="none" stroke="#000" stroke-width="1.9"/>
<path d="M553.64 715.08L566.14 715.08M559.89 708.83L559.89 721.33" fill="none" stroke="#000" stroke-width="1.9"/>
<path d="M36.3 516.2H71.3" stroke="#000" stroke-width="1.9"/>
<path d="M53.8 510.5L59.5 516.2L53.8 521.9L48.1 516.2Z" fill="none" stroke="#000" stroke-width="1.75"/>
<text transform="translate(74.3 522.76) scale(1.045 1)" font-size="19.62">p(AG-g-GO)1</text>
<path d="M253.3 516.2H288.3" stroke="#000" stroke-width="2.5"/>
<path d="M270.8 510.3L276.7 522.1L264.9 522.1Z" fill="none" stroke="#000" stroke-width="1.75" stroke-linejoin="miter"/>
<text transform="translate(291 522.76) scale(1.045 1)" font-size="19.62">p(AG-g-GO)2</text>
<path d="M470.3 516.2H505.3" stroke="#000" stroke-width="1.9"/>
<rect x="481.8" y="510.2" width="12" height="12" fill="none" stroke="#000" stroke-width="1.75"/>
<text transform="translate(508 522.76) scale(1.045 1)" font-size="19.62">p(AG-g-GO)3</text>
<path d="M36.3 546.4H71.3" stroke="#000" stroke-width="3.0"/>
<circle cx="53.8" cy="546.4" r="5.8" fill="none" stroke="#000" stroke-width="1.75"/>
<text transform="translate(74.3 552.96) scale(1.045 1)" font-size="19.62">p(AG-m-GO)1</text>
<path d="M253.3 546.4H288.3" stroke="#000" stroke-width="1.9"/>
<path d="M265.1 540.7L276.5 552.1M265.1 552.1L276.5 540.7M270.8 540.7L270.8 552.1" fill="none" stroke="#000" stroke-width="1.75"/>
<text transform="translate(291 552.96) scale(1.045 1)" font-size="19.62">p(AG-m-GO)2</text>
<path d="M470.3 546.4H505.3" stroke="#000" stroke-width="1.9"/>
<path d="M482 546.4L493.6 546.4M487.8 540.6L487.8 552.2" fill="none" stroke="#000" stroke-width="1.75"/>
<text transform="translate(508 552.96) scale(1.045 1)" font-size="19.62">p(AG-m-GO)3</text>
</g>
<g>
<path d="M93 1076.5H657.2V1420.6" fill="none" stroke="#111" stroke-width="1.6"/>
<path d="M93 1076.5V1420.6H657.2M93 1420.6h-7M93 1363.25h-7M93 1305.9h-7M93 1248.55h-7M93 1191.2h-7M93 1133.85h-7M93 1076.5h-7M93 1420.6v6.5M173.6 1420.6v6.5M254.2 1420.6v6.5M334.8 1420.6v6.5M415.4 1420.6v6.5M496 1420.6v6.5M576.6 1420.6v6.5M657.2 1420.6v6.5" fill="none" stroke="#000" stroke-width="1.8"/>
<text transform="translate(79.9 1431.25) scale(1.03 1)" font-size="28.5" text-anchor="end" class="tk">0</text>
<text transform="translate(79.9 1373.9) scale(1.03 1)" font-size="28.5" text-anchor="end" class="tk">5</text>
<text transform="translate(79.9 1316.55) scale(1.03 1)" font-size="28.5" text-anchor="end" class="tk">10</text>
<text transform="translate(79.9 1259.2) scale(1.03 1)" font-size="28.5" text-anchor="end" class="tk">15</text>
<text transform="translate(79.9 1201.85) scale(1.03 1)" font-size="28.5" text-anchor="end" class="tk">20</text>
<text transform="translate(79.9 1144.5) scale(1.03 1)" font-size="28.5" text-anchor="end" class="tk">25</text>
<text transform="translate(79.9 1087.15) scale(1.03 1)" font-size="28.5" text-anchor="end" class="tk">30</text>
<text transform="translate(94.7 1453.6) scale(1.03 1)" font-size="28.5" text-anchor="middle" class="tk">0</text>
<text transform="translate(179.8 1453.6) scale(1.03 1)" font-size="28.5" text-anchor="middle" class="tk">100</text>
<text transform="translate(260.4 1453.6) scale(1.03 1)" font-size="28.5" text-anchor="middle" class="tk">200</text>
<text transform="translate(341 1453.6) scale(1.03 1)" font-size="28.5" text-anchor="middle" class="tk">300</text>
<text transform="translate(421.6 1453.6) scale(1.03 1)" font-size="28.5" text-anchor="middle" class="tk">400</text>
<text transform="translate(502.2 1453.6) scale(1.03 1)" font-size="28.5" text-anchor="middle" class="tk">500</text>
<text transform="translate(582.8 1453.6) scale(1.03 1)" font-size="28.5" text-anchor="middle" class="tk">600</text>
<text transform="translate(663.4 1453.6) scale(1.03 1)" font-size="28.5" text-anchor="middle" class="tk">700</text>
<text x="380.4" y="1492.4" font-size="33" font-weight="bold" text-anchor="middle">Time (min)</text>
<text transform="translate(28.6 1248.9) rotate(-90)" font-size="33.5" font-weight="bold" text-anchor="middle">Release of Ceftriaxone%</text>
<text x="623.2" y="1132.9" font-size="39.2" font-weight="bold">c</text>
<path d="M141.36 1324.71V1342.15M137.36 1324.71h8M137.36 1342.15h8M165.54 1285.6V1310.14M161.54 1285.6h8M161.54 1310.14h8M189.72 1255.32V1285.37M185.72 1255.32h8M185.72 1285.37h8M238.08 1237.78V1271.02M234.08 1237.78h8M234.08 1271.02h8M286.44 1230.46V1265.03M282.44 1230.46h8M282.44 1265.03h8M334.8 1223.14V1259.05M330.8 1223.14h8M330.8 1259.05h8M383.16 1205.73V1244.8M379.16 1205.73h8M379.16 1244.8h8M431.52 1201.95V1241.7M427.52 1201.95h8M427.52 1241.7h8M479.88 1198.67V1239.02M475.88 1198.67h8M475.88 1239.02h8M528.24 1179.62V1223.43M524.24 1179.62h8M524.24 1223.43h8M576.6 1151.23V1200.2M572.6 1151.23h8M572.6 1200.2h8" fill="none" stroke="#747474" stroke-width="1.7"/>
<path d="M93 1420.6C105.09 1419.17 111.27 1428.38 117.18 1417.73C125.24 1403.2 133.3 1353.4 141.36 1333.43C149.4 1313.49 152.46 1314.93 165.54 1297.87C173.6 1287.36 177.63 1277.59 189.72 1270.34C201.81 1263.1 221.96 1258.17 238.08 1254.4C254.2 1250.63 270.32 1249.96 286.44 1247.75C302.56 1245.53 318.68 1244.84 334.8 1241.09C350.92 1237.35 367.04 1228.48 383.16 1225.27C399.28 1222.05 415.4 1222.9 431.52 1221.82C447.64 1220.75 463.76 1222.23 479.88 1218.84C496 1215.46 512.12 1208.71 528.24 1201.52C544.36 1194.34 560.48 1184.32 576.6 1175.72" fill="none" stroke="#000" stroke-width="1.81" stroke-linejoin="round"/>
<path d="M93 1412.1L101.5 1420.6L93 1429.1L84.5 1420.6Z" fill="none" stroke="#000" stroke-width="1.9"/>
<path d="M117.18 1409.23L125.68 1417.73L117.18 1426.23L108.68 1417.73Z" fill="none" stroke="#000" stroke-width="1.9"/>
<path d="M141.36 1324.93L149.86 1333.43L141.36 1341.93L132.86 1333.43Z" fill="none" stroke="#000" stroke-width="1.9"/>
<path d="M165.54 1289.37L174.04 1297.87L165.54 1306.37L157.04 1297.87Z" fill="none" stroke="#000" stroke-width="1.9"/>
<path d="M189.72 1261.84L198.22 1270.34L189.72 1278.84L181.22 1270.34Z" fill="none" stroke="#000" stroke-width="1.9"/>
<path d="M238.08 1245.9L246.58 1254.4L238.08 1262.9L229.58 1254.4Z" fill="none" stroke="#000" stroke-width="1.9"/>
<path d="M286.44 1239.25L294.94 1247.75L286.44 1256.25L277.94 1247.75Z" fill="none" stroke="#000" stroke-width="1.9"/>
<path d="M334.8 1232.59L343.3 1241.09L334.8 1249.59L326.3 1241.09Z" fill="none" stroke="#000" stroke-width="1.9"/>
<path d="M383.16 1216.77L391.66 1225.27L383.16 1233.77L374.66 1225.27Z" fill="none" stroke="#000" stroke-width="1.9"/>
<path d="M431.52 1213.32L440.02 1221.82L431.52 1230.32L423.02 1221.82Z" fill="none" stroke="#000" stroke-width="1.9"/>
<path d="M479.88 1210.34L488.38 1218.84L479.88 1227.34L471.38 1218.84Z" fill="none" stroke="#000" stroke-width="1.9"/>
<path d="M528.24 1193.02L536.74 1201.52L528.24 1210.02L519.74 1201.52Z" fill="none" stroke="#000" stroke-width="1.9"/>
<path d="M576.6 1167.22L585.1 1175.72L576.6 1184.22L568.1 1175.72Z" fill="none" stroke="#000" stroke-width="1.9"/>
<path d="M141.36 1386.88V1390.09M137.36 1386.88h8M137.36 1390.09h8M165.54 1367.85V1372.87M161.54 1367.85h8M161.54 1372.87h8M189.72 1348.58V1355.44M185.72 1348.58h8M185.72 1355.44h8M238.08 1337.14V1345.09M234.08 1337.14h8M234.08 1345.09h8M286.44 1329.67V1338.33M282.44 1329.67h8M282.44 1338.33h8M334.8 1323.41V1332.67M330.8 1323.41h8M330.8 1332.67h8M383.16 1304.98V1315.99M379.16 1304.98h8M379.16 1315.99h8M431.52 1302.21V1313.49M427.52 1302.21h8M427.52 1313.49h8M479.88 1294.62V1306.62M475.88 1294.62h8M475.88 1306.62h8M528.24 1280.9V1294.2M524.24 1280.9h8M524.24 1294.2h8M576.6 1271.62V1285.81M572.6 1271.62h8M572.6 1285.81h8" fill="none" stroke="#747474" stroke-width="1.7"/>
<path d="M93 1420.6C101.06 1417.69 109.12 1417.24 117.18 1411.88C125.24 1406.53 133.3 1395.4 141.36 1388.48C149.42 1381.56 157.48 1376.44 165.54 1370.36C173.6 1364.28 177.63 1356.88 189.72 1352.01C201.81 1347.13 221.96 1344.11 238.08 1341.11C254.2 1338.11 270.32 1336.18 286.44 1334C302.56 1331.82 318.68 1331.96 334.8 1328.04C350.92 1324.12 367.04 1313.85 383.16 1310.49C399.28 1307.12 415.4 1309.49 431.52 1307.85C447.64 1306.21 463.76 1304.01 479.88 1300.62C496 1297.24 512.12 1291.2 528.24 1287.55C544.36 1283.9 560.48 1281.66 576.6 1278.72" fill="none" stroke="#000" stroke-width="2.15" stroke-linejoin="round"/>
<path d="M93 1412.35L101.25 1428.85L84.75 1428.85Z" fill="none" stroke="#000" stroke-width="1.9" stroke-linejoin="miter"/>
<path d="M117.18 1403.63L125.43 1420.13L108.93 1420.13Z" fill="none" stroke="#000" stroke-width="1.9" stroke-linejoin="miter"/>
<path d="M141.36 1380.23L149.61 1396.73L133.11 1396.73Z" fill="none" stroke="#000" stroke-width="1.9" stroke-linejoin="miter"/>
<path d="M165.54 1362.11L173.79 1378.61L157.29 1378.61Z" fill="none" stroke="#000" stroke-width="1.9" stroke-linejoin="miter"/>
<path d="M189.72 1343.76L197.97 1360.26L181.47 1360.26Z" fill="none" stroke="#000" stroke-width="1.9" stroke-linejoin="miter"/>
<path d="M238.08 1332.86L246.33 1349.36L229.83 1349.36Z" fill="none" stroke="#000" stroke-width="1.9" stroke-linejoin="miter"/>
<path d="M286.44 1325.75L294.69 1342.25L278.19 1342.25Z" fill="none" stroke="#000" stroke-width="1.9" stroke-linejoin="miter"/>
<path d="M334.8 1319.79L343.05 1336.29L326.55 1336.29Z" fill="none" stroke="#000" stroke-width="1.9" stroke-linejoin="miter"/>
<path d="M383.16 1302.24L391.41 1318.74L374.91 1318.74Z" fill="none" stroke="#000" stroke-width="1.9" stroke-linejoin="miter"/>
<path d="M431.52 1299.6L439.77 1316.1L423.27 1316.1Z" fill="none" stroke="#000" stroke-width="1.9" stroke-linejoin="miter"/>
<path d="M479.88 1292.37L488.13 1308.87L471.63 1308.87Z" fill="none" stroke="#000" stroke-width="1.9" stroke-linejoin="miter"/>
<path d="M528.24 1279.3L536.49 1295.8L519.99 1295.8Z" fill="none" stroke="#000" stroke-width="1.9" stroke-linejoin="miter"/>
<path d="M576.6 1270.47L584.85 1286.97L568.35 1286.97Z" fill="none" stroke="#000" stroke-width="1.9" stroke-linejoin="miter"/>
<path d="M141.36 1393.62V1396.19M137.36 1393.62h8M137.36 1396.19h8M165.54 1374.83V1379.19M161.54 1374.83h8M161.54 1379.19h8M189.72 1354.72V1361M185.72 1354.72h8M185.72 1361h8M238.08 1338.7V1346.5M234.08 1338.7h8M234.08 1346.5h8M286.44 1331V1339.53M282.44 1331h8M282.44 1339.53h8M334.8 1317.87V1327.65M330.8 1317.87h8M330.8 1327.65h8M383.16 1304.38V1315.45M379.16 1304.38h8M379.16 1315.45h8M431.52 1297.76V1309.46M427.52 1297.76h8M427.52 1309.46h8M479.88 1288.48V1301.07M475.88 1288.48h8M475.88 1301.07h8M528.24 1273.07V1287.12M524.24 1273.07h8M524.24 1287.12h8M576.6 1254.76V1270.56M572.6 1254.76h8M572.6 1270.56h8" fill="none" stroke="#747474" stroke-width="1.7"/>
<path d="M93 1420.6C101.06 1415.44 109.12 1409.4 117.18 1405.12C125.24 1400.83 133.3 1399.59 141.36 1394.91C149.42 1390.22 157.48 1383.19 165.54 1377.01C173.6 1370.84 177.63 1363.59 189.72 1357.86C201.81 1352.12 221.96 1346.37 238.08 1342.6C254.2 1338.84 270.32 1338.57 286.44 1335.26C302.56 1331.96 318.68 1326.99 334.8 1322.76C350.92 1318.54 367.04 1313.11 383.16 1309.91C399.28 1306.72 415.4 1306.13 431.52 1303.61C447.64 1301.08 463.76 1298.69 479.88 1294.77C496 1290.86 512.12 1285.45 528.24 1280.09C544.36 1274.74 560.48 1268.47 576.6 1262.66" fill="none" stroke="#000" stroke-width="1.81" stroke-linejoin="round"/>
<rect x="84.75" y="1412.35" width="16.5" height="16.5" fill="none" stroke="#000" stroke-width="1.9"/>
<rect x="108.93" y="1396.87" width="16.5" height="16.5" fill="none" stroke="#000" stroke-width="1.9"/>
<rect x="133.11" y="1386.66" width="16.5" height="16.5" fill="none" stroke="#000" stroke-width="1.9"/>
<rect x="157.29" y="1368.76" width="16.5" height="16.5" fill="none" stroke="#000" stroke-width="1.9"/>
<rect x="181.47" y="1349.61" width="16.5" height="16.5" fill="none" stroke="#000" stroke-width="1.9"/>
<rect x="229.83" y="1334.35" width="16.5" height="16.5" fill="none" stroke="#000" stroke-width="1.9"/>
<rect x="278.19" y="1327.01" width="16.5" height="16.5" fill="none" stroke="#000" stroke-width="1.9"/>
<rect x="326.55" y="1314.51" width="16.5" height="16.5" fill="none" stroke="#000" stroke-width="1.9"/>
<rect x="374.91" y="1301.66" width="16.5" height="16.5" fill="none" stroke="#000" stroke-width="1.9"/>
<rect x="423.27" y="1295.36" width="16.5" height="16.5" fill="none" stroke="#000" stroke-width="1.9"/>
<rect x="471.63" y="1286.52" width="16.5" height="16.5" fill="none" stroke="#000" stroke-width="1.9"/>
<rect x="519.99" y="1271.84" width="16.5" height="16.5" fill="none" stroke="#000" stroke-width="1.9"/>
<rect x="568.35" y="1254.41" width="16.5" height="16.5" fill="none" stroke="#000" stroke-width="1.9"/>
<path d="M117.18 1325.22V1342.56M113.18 1325.22h8M113.18 1342.56h8M141.36 1327.49V1344.42M137.36 1327.49h8M137.36 1344.42h8M165.54 1302.76V1324.18M161.54 1302.76h8M161.54 1324.18h8M189.72 1293.17V1316.34M185.72 1293.17h8M185.72 1316.34h8M238.08 1282.44V1307.56M234.08 1282.44h8M234.08 1307.56h8M286.44 1278.66V1304.47M282.44 1278.66h8M282.44 1304.47h8M334.8 1273.23V1300.03M330.8 1273.23h8M330.8 1300.03h8M383.16 1254.56V1284.75M379.16 1254.56h8M379.16 1284.75h8M431.52 1238.92V1271.95M427.52 1238.92h8M427.52 1271.95h8M479.88 1203.59V1243.04M475.88 1203.59h8M475.88 1243.04h8M528.24 1124.23V1178.11M524.24 1124.23h8M524.24 1178.11h8M576.6 1095.08V1154.27M572.6 1095.08h8M572.6 1154.27h8" fill="none" stroke="#747474" stroke-width="1.7"/>
<path d="M93 1420.6C101.06 1391.7 109.12 1347.99 117.18 1333.89C123.2 1323.35 130.18 1340.67 141.36 1335.95C149.42 1332.55 157.48 1318.67 165.54 1313.47C173.6 1308.27 177.63 1307.83 189.72 1304.75C201.81 1301.68 221.96 1297.2 238.08 1295C254.2 1292.81 270.32 1292.96 286.44 1291.56C302.56 1290.17 318.68 1290.28 334.8 1286.63C350.92 1282.98 367.04 1274.85 383.16 1269.65C399.28 1264.46 415.4 1263.16 431.52 1255.43C447.64 1247.71 463.76 1240.69 479.88 1223.32C496 1205.94 512.12 1167.61 528.24 1151.17C544.36 1134.73 560.48 1133.51 576.6 1124.67" fill="none" stroke="#000" stroke-width="2.83" stroke-linejoin="round"/>
<circle cx="93" cy="1420.6" r="8.25" fill="none" stroke="#000" stroke-width="1.9"/>
<circle cx="117.18" cy="1333.89" r="8.25" fill="none" stroke="#000" stroke-width="1.9"/>
<circle cx="141.36" cy="1335.95" r="8.25" fill="none" stroke="#000" stroke-width="1.9"/>
<circle cx="165.54" cy="1313.47" r="8.25" fill="none" stroke="#000" stroke-width="1.9"/>
<circle cx="189.72" cy="1304.75" r="8.25" fill="none" stroke="#000" stroke-width="1.9"/>
<circle cx="238.08" cy="1295" r="8.25" fill="none" stroke="#000" stroke-width="1.9"/>
<circle cx="286.44" cy="1291.56" r="8.25" fill="none" stroke="#000" stroke-width="1.9"/>
<circle cx="334.8" cy="1286.63" r="8.25" fill="none" stroke="#000" stroke-width="1.9"/>
<circle cx="383.16" cy="1269.65" r="8.25" fill="none" stroke="#000" stroke-width="1.9"/>
<circle cx="431.52" cy="1255.43" r="8.25" fill="none" stroke="#000" stroke-width="1.9"/>
<circle cx="479.88" cy="1223.32" r="8.25" fill="none" stroke="#000" stroke-width="1.9"/>
<circle cx="528.24" cy="1151.17" r="8.25" fill="none" stroke="#000" stroke-width="1.9"/>
<circle cx="576.6" cy="1124.67" r="8.25" fill="none" stroke="#000" stroke-width="1.9"/>
<path d="M93 1420.6C101.06 1402.9 109.12 1382.6 117.18 1367.49C125.24 1352.39 133.3 1339.68 141.36 1329.99C149.42 1320.29 157.48 1316.51 165.54 1309.34C173.6 1302.17 177.63 1293.21 189.72 1286.97C201.81 1280.74 221.96 1275.81 238.08 1271.95C254.2 1268.09 270.32 1266.23 286.44 1263.81C302.56 1261.38 318.68 1261.36 334.8 1257.38C350.92 1253.41 367.04 1244.29 383.16 1239.95C399.28 1235.61 415.4 1233.35 431.52 1231.35C447.64 1229.34 463.76 1234.12 479.88 1227.9C496 1221.69 512.12 1204.91 528.24 1194.07C544.36 1183.23 560.48 1173.27 576.6 1162.87" fill="none" stroke="#000" stroke-width="1.81" stroke-linejoin="round"/>
<path d="M86.75 1414.35L99.25 1426.85M86.75 1426.85L99.25 1414.35M93 1414.35L93 1426.85" fill="none" stroke="#000" stroke-width="1.9"/>
<path d="M110.93 1361.24L123.43 1373.74M110.93 1373.74L123.43 1361.24M117.18 1361.24L117.18 1373.74" fill="none" stroke="#000" stroke-width="1.9"/>
<path d="M135.11 1323.74L147.61 1336.24M135.11 1336.24L147.61 1323.74M141.36 1323.74L141.36 1336.24" fill="none" stroke="#000" stroke-width="1.9"/>
<path d="M159.29 1303.09L171.79 1315.59M159.29 1315.59L171.79 1303.09M165.54 1303.09L165.54 1315.59" fill="none" stroke="#000" stroke-width="1.9"/>
<path d="M183.47 1280.72L195.97 1293.22M183.47 1293.22L195.97 1280.72M189.72 1280.72L189.72 1293.22" fill="none" stroke="#000" stroke-width="1.9"/>
<path d="M231.83 1265.7L244.33 1278.2M231.83 1278.2L244.33 1265.7M238.08 1265.7L238.08 1278.2" fill="none" stroke="#000" stroke-width="1.9"/>
<path d="M280.19 1257.56L292.69 1270.06M280.19 1270.06L292.69 1257.56M286.44 1257.56L286.44 1270.06" fill="none" stroke="#000" stroke-width="1.9"/>
<path d="M328.55 1251.13L341.05 1263.63M328.55 1263.63L341.05 1251.13M334.8 1251.13L334.8 1263.63" fill="none" stroke="#000" stroke-width="1.9"/>
<path d="M376.91 1233.7L389.41 1246.2M376.91 1246.2L389.41 1233.7M383.16 1233.7L383.16 1246.2" fill="none" stroke="#000" stroke-width="1.9"/>
<path d="M425.27 1225.1L437.77 1237.6M425.27 1237.6L437.77 1225.1M431.52 1225.1L431.52 1237.6" fill="none" stroke="#000" stroke-width="1.9"/>
<path d="M473.63 1221.65L486.13 1234.15M473.63 1234.15L486.13 1221.65M479.88 1221.65L479.88 1234.15" fill="none" stroke="#000" stroke-width="1.9"/>
<path d="M521.99 1187.82L534.49 1200.32M521.99 1200.32L534.49 1187.82M528.24 1187.82L528.24 1200.32" fill="none" stroke="#000" stroke-width="1.9"/>
<path d="M570.35 1156.62L582.85 1169.12M570.35 1169.12L582.85 1156.62M576.6 1156.62L576.6 1169.12" fill="none" stroke="#000" stroke-width="1.9"/>
<path d="M93 1420.6C101.06 1411.42 109.12 1403.28 117.18 1393.07C125.24 1382.86 133.3 1368.87 141.36 1359.35C149.42 1349.83 157.48 1343.85 165.54 1335.95C173.6 1328.06 177.63 1317.68 189.72 1311.98C201.81 1306.28 221.96 1305.17 238.08 1301.77C254.2 1298.37 270.32 1297.37 286.44 1291.56C302.56 1285.75 318.68 1273.23 334.8 1266.9C350.92 1260.57 367.04 1256.98 383.16 1253.6C399.28 1250.21 415.4 1248.59 431.52 1246.6C447.64 1244.61 463.76 1250.14 479.88 1241.67C496 1233.2 512.12 1208.79 528.24 1195.79C544.36 1182.79 560.48 1174.38 576.6 1163.67" fill="none" stroke="#000" stroke-width="1.81" stroke-linejoin="round"/>
<path d="M86.75 1420.6L99.25 1420.6M93 1414.35L93 1426.85" fill="none" stroke="#000" stroke-width="1.9"/>
<path d="M110.93 1393.07L123.43 1393.07M117.18 1386.82L117.18 1399.32" fill="none" stroke="#000" stroke-width="1.9"/>
<path d="M135.11 1359.35L147.61 1359.35M141.36 1353.1L141.36 1365.6" fill="none" stroke="#000" stroke-width="1.9"/>
<path d="M159.29 1335.95L171.79 1335.95M165.54 1329.7L165.54 1342.2" fill="none" stroke="#000" stroke-width="1.9"/>
<path d="M183.47 1311.98L195.97 1311.98M189.72 1305.73L189.72 1318.23" fill="none" stroke="#000" stroke-width="1.9"/>
<path d="M231.83 1301.77L244.33 1301.77M238.08 1295.52L238.08 1308.02" fill="none" stroke="#000" stroke-width="1.9"/>
<path d="M280.19 1291.56L292.69 1291.56M286.44 1285.31L286.44 1297.81" fill="none" stroke="#000" stroke-width="1.9"/>
<path d="M328.55 1266.9L341.05 1266.9M334.8 1260.65L334.8 1273.15" fill="none" stroke="#000" stroke-width="1.9"/>
<path d="M376.91 1253.6L389.41 1253.6M383.16 1247.35L383.16 1259.85" fill="none" stroke="#000" stroke-width="1.9"/>
<path d="M425.27 1246.6L437.77 1246.6M431.52 1240.35L431.52 1252.85" fill="none" stroke="#000" stroke-width="1.9"/>
<path d="M473.63 1241.67L486.13 1241.67M479.88 1235.42L479.88 1247.92" fill="none" stroke="#000" stroke-width="1.9"/>
<path d="M521.99 1195.79L534.49 1195.79M528.24 1189.54L528.24 1202.04" fill="none" stroke="#000" stroke-width="1.9"/>
<path d="M570.35 1163.67L582.85 1163.67M576.6 1157.42L576.6 1169.92" fill="none" stroke="#000" stroke-width="1.9"/>
<path d="M45.4 1024.7H80.9" stroke="#000" stroke-width="1.9"/>
<path d="M63.15 1019.5L68.35 1024.7L63.15 1029.9L57.95 1024.7Z" fill="none" stroke="#000" stroke-width="1.75"/>
<text transform="translate(83.4 1030.65) scale(1.045 1)" font-size="17.8">p(AG-g-GO)1</text>
<path d="M268.2 1024.7H303.7" stroke="#000" stroke-width="2.5"/>
<path d="M285.95 1019.4L291.25 1030L280.65 1030Z" fill="none" stroke="#000" stroke-width="1.75" stroke-linejoin="miter"/>
<text transform="translate(306.3 1030.65) scale(1.045 1)" font-size="17.8">p(AG-g-GO)2</text>
<path d="M491.5 1024.7H527" stroke="#000" stroke-width="1.9"/>
<rect x="504.05" y="1019.5" width="10.4" height="10.4" fill="none" stroke="#000" stroke-width="1.75"/>
<text transform="translate(529.8 1030.65) scale(1.045 1)" font-size="17.8">p(AG-g-GO)3</text>
<path d="M45.4 1054.7H80.9" stroke="#000" stroke-width="3.0"/>
<circle cx="63.15" cy="1054.7" r="5.2" fill="none" stroke="#000" stroke-width="1.75"/>
<text transform="translate(83.4 1060.65) scale(1.045 1)" font-size="17.8">p(AG-m-GO)1</text>
<path d="M268.2 1054.7H303.7" stroke="#000" stroke-width="1.9"/>
<path d="M280.85 1049.6L291.05 1059.8M280.85 1059.8L291.05 1049.6M285.95 1049.6L285.95 1059.8" fill="none" stroke="#000" stroke-width="1.75"/>
<text transform="translate(306.3 1060.65) scale(1.045 1)" font-size="17.8">p(AG-m-GO)2</text>
<path d="M491.5 1054.7H527" stroke="#000" stroke-width="1.9"/>
<path d="M504.05 1054.7L514.45 1054.7M509.25 1049.5L509.25 1059.9" fill="none" stroke="#000" stroke-width="1.75"/>
<text transform="translate(529.8 1060.65) scale(1.045 1)" font-size="17.8">p(AG-m-GO)3</text>
</g>
<g>
<path d="M92.3 1578.5H656V1922.5" fill="none" stroke="#111" stroke-width="1.6"/>
<path d="M92.3 1578.5V1922.5H656M92.3 1922.5h-7M92.3 1865.17h-7M92.3 1807.83h-7M92.3 1750.5h-7M92.3 1693.17h-7M92.3 1635.83h-7M92.3 1578.5h-7M92.3 1922.5v6.5M172.83 1922.5v6.5M253.36 1922.5v6.5M333.89 1922.5v6.5M414.41 1922.5v6.5M494.94 1922.5v6.5M575.47 1922.5v6.5M656 1922.5v6.5" fill="none" stroke="#000" stroke-width="1.8"/>
<text transform="translate(79.7 1930.95) scale(1.03 1)" font-size="28.5" text-anchor="end" class="tk">0</text>
<text transform="translate(79.7 1873.61) scale(1.03 1)" font-size="28.5" text-anchor="end" class="tk">5</text>
<text transform="translate(79.7 1816.28) scale(1.03 1)" font-size="28.5" text-anchor="end" class="tk">10</text>
<text transform="translate(79.7 1758.95) scale(1.03 1)" font-size="28.5" text-anchor="end" class="tk">15</text>
<text transform="translate(79.7 1701.61) scale(1.03 1)" font-size="28.5" text-anchor="end" class="tk">20</text>
<text transform="translate(79.7 1644.28) scale(1.03 1)" font-size="28.5" text-anchor="end" class="tk">25</text>
<text transform="translate(79.7 1586.95) scale(1.03 1)" font-size="28.5" text-anchor="end" class="tk">30</text>
<text transform="translate(92.8 1955.5) scale(1.03 1)" font-size="28.5" text-anchor="middle" class="tk">0</text>
<text transform="translate(177.83 1955.5) scale(1.03 1)" font-size="28.5" text-anchor="middle" class="tk">100</text>
<text transform="translate(258.36 1955.5) scale(1.03 1)" font-size="28.5" text-anchor="middle" class="tk">200</text>
<text transform="translate(338.89 1955.5) scale(1.03 1)" font-size="28.5" text-anchor="middle" class="tk">300</text>
<text transform="translate(419.41 1955.5) scale(1.03 1)" font-size="28.5" text-anchor="middle" class="tk">400</text>
<text transform="translate(499.94 1955.5) scale(1.03 1)" font-size="28.5" text-anchor="middle" class="tk">500</text>
<text transform="translate(580.47 1955.5) scale(1.03 1)" font-size="28.5" text-anchor="middle" class="tk">600</text>
<text transform="translate(661 1955.5) scale(1.03 1)" font-size="28.5" text-anchor="middle" class="tk">700</text>
<text x="377.4" y="1994.4" font-size="33" font-weight="bold" text-anchor="middle">Time (min)</text>
<text transform="translate(28.6 1745.8) rotate(-90)" font-size="33.5" font-weight="bold" text-anchor="middle">Release of Ceftriaxone%</text>
<text x="621.2" y="1635.2" font-size="39.2" font-weight="bold">d</text>
<path d="M140.62 1846.44V1860.27M136.62 1846.44h8M136.62 1860.27h8M164.78 1804.69V1826.11M160.78 1804.69h8M160.78 1826.11h8M188.93 1775.81V1802.48M184.93 1775.81h8M184.93 1802.48h8M237.25 1756V1786.28M233.25 1756h8M233.25 1786.28h8M285.57 1743.64V1776.16M281.57 1743.64h8M281.57 1776.16h8M333.89 1735.57V1769.56M329.89 1735.57h8M329.89 1769.56h8M382.2 1724.34V1760.37M378.2 1724.34h8M378.2 1760.37h8M430.52 1705.93V1745.31M426.52 1705.93h8M426.52 1745.31h8M478.84 1696.34V1737.46M474.84 1696.34h8M474.84 1737.46h8M527.15 1669.35V1715.38M523.15 1669.35h8M523.15 1715.38h8M575.47 1652.57V1701.65M571.47 1652.57h8M571.47 1701.65h8" fill="none" stroke="#747474" stroke-width="1.7"/>
<path d="M92.3 1922.5C104.38 1921.35 109.51 1930.15 116.46 1920.21C124.51 1908.68 132.56 1870.82 140.62 1853.36C148.67 1835.89 156.72 1826.1 164.78 1815.4C172.83 1804.7 176.85 1796.52 188.93 1789.14C201.01 1781.77 221.15 1776.01 237.25 1771.14C253.36 1766.27 269.46 1763 285.57 1759.9C301.67 1756.81 317.78 1755.49 333.89 1752.56C349.99 1749.64 366.1 1746.85 382.2 1742.36C398.31 1737.87 414.41 1729.86 430.52 1725.62C446.63 1721.37 462.73 1722.44 478.84 1716.9C494.94 1711.36 511.05 1699 527.15 1692.36C543.26 1685.73 559.37 1682.2 575.47 1677.11" fill="none" stroke="#000" stroke-width="1.81" stroke-linejoin="round"/>
<path d="M92.3 1914L100.8 1922.5L92.3 1931L83.8 1922.5Z" fill="none" stroke="#000" stroke-width="1.9"/>
<path d="M116.46 1911.71L124.96 1920.21L116.46 1928.71L107.96 1920.21Z" fill="none" stroke="#000" stroke-width="1.9"/>
<path d="M140.62 1844.86L149.12 1853.36L140.62 1861.86L132.12 1853.36Z" fill="none" stroke="#000" stroke-width="1.9"/>
<path d="M164.78 1806.9L173.28 1815.4L164.78 1823.9L156.28 1815.4Z" fill="none" stroke="#000" stroke-width="1.9"/>
<path d="M188.93 1780.64L197.43 1789.14L188.93 1797.64L180.43 1789.14Z" fill="none" stroke="#000" stroke-width="1.9"/>
<path d="M237.25 1762.64L245.75 1771.14L237.25 1779.64L228.75 1771.14Z" fill="none" stroke="#000" stroke-width="1.9"/>
<path d="M285.57 1751.4L294.07 1759.9L285.57 1768.4L277.07 1759.9Z" fill="none" stroke="#000" stroke-width="1.9"/>
<path d="M333.89 1744.06L342.39 1752.56L333.89 1761.06L325.39 1752.56Z" fill="none" stroke="#000" stroke-width="1.9"/>
<path d="M382.2 1733.86L390.7 1742.36L382.2 1750.86L373.7 1742.36Z" fill="none" stroke="#000" stroke-width="1.9"/>
<path d="M430.52 1717.12L439.02 1725.62L430.52 1734.12L422.02 1725.62Z" fill="none" stroke="#000" stroke-width="1.9"/>
<path d="M478.84 1708.4L487.34 1716.9L478.84 1725.4L470.34 1716.9Z" fill="none" stroke="#000" stroke-width="1.9"/>
<path d="M527.15 1683.86L535.65 1692.36L527.15 1700.86L518.65 1692.36Z" fill="none" stroke="#000" stroke-width="1.9"/>
<path d="M575.47 1668.61L583.97 1677.11L575.47 1685.61L566.97 1677.11Z" fill="none" stroke="#000" stroke-width="1.9"/>
<path d="M140.62 1868.32V1873.48M136.62 1868.32h8M136.62 1873.48h8M164.78 1837.62V1845.7M160.78 1837.62h8M160.78 1845.7h8M188.93 1810.05V1820.76M184.93 1810.05h8M184.93 1820.76h8M237.25 1784.04V1797.23M233.25 1784.04h8M233.25 1797.23h8M285.57 1772.48V1786.77M281.57 1772.48h8M281.57 1786.77h8M333.89 1760.92V1776.31M329.89 1760.92h8M329.89 1776.31h8M382.2 1745.63V1762.48M378.2 1745.63h8M378.2 1762.48h8M430.52 1728.66V1747.12M426.52 1728.66h8M426.52 1747.12h8M478.84 1717.82V1737.31M474.84 1717.82h8M474.84 1737.31h8M527.15 1688.92V1711.17M523.15 1688.92h8M523.15 1711.17h8M575.47 1675.44V1698.97M571.47 1675.44h8M571.47 1698.97h8" fill="none" stroke="#747474" stroke-width="1.7"/>
<path d="M92.3 1922.5C100.35 1921.74 108.41 1928.81 116.46 1920.21C124.51 1911.61 132.56 1883.99 140.62 1870.9C148.67 1857.81 156.72 1850.91 164.78 1841.66C172.83 1832.41 176.85 1823.91 188.93 1815.4C201.01 1806.9 221.15 1796.6 237.25 1790.63C253.36 1784.67 269.46 1783.29 285.57 1779.63C301.67 1775.96 317.78 1772.88 333.89 1768.62C349.99 1764.36 366.1 1759.18 382.2 1754.05C398.31 1748.93 414.41 1742.3 430.52 1737.89C446.63 1733.47 462.73 1733.87 478.84 1727.57C494.94 1721.26 511.05 1706.77 527.15 1700.05C543.26 1693.32 559.37 1691.48 575.47 1687.2" fill="none" stroke="#000" stroke-width="2.61" stroke-linejoin="round"/>
<path d="M92.3 1914.25L100.55 1930.75L84.05 1930.75Z" fill="none" stroke="#000" stroke-width="1.9" stroke-linejoin="miter"/>
<path d="M116.46 1911.96L124.71 1928.46L108.21 1928.46Z" fill="none" stroke="#000" stroke-width="1.9" stroke-linejoin="miter"/>
<path d="M140.62 1862.65L148.87 1879.15L132.37 1879.15Z" fill="none" stroke="#000" stroke-width="1.9" stroke-linejoin="miter"/>
<path d="M164.78 1833.41L173.03 1849.91L156.53 1849.91Z" fill="none" stroke="#000" stroke-width="1.9" stroke-linejoin="miter"/>
<path d="M188.93 1807.15L197.18 1823.65L180.68 1823.65Z" fill="none" stroke="#000" stroke-width="1.9" stroke-linejoin="miter"/>
<path d="M237.25 1782.38L245.5 1798.88L229 1798.88Z" fill="none" stroke="#000" stroke-width="1.9" stroke-linejoin="miter"/>
<path d="M285.57 1771.38L293.82 1787.88L277.32 1787.88Z" fill="none" stroke="#000" stroke-width="1.9" stroke-linejoin="miter"/>
<path d="M333.89 1760.37L342.14 1776.87L325.64 1776.87Z" fill="none" stroke="#000" stroke-width="1.9" stroke-linejoin="miter"/>
<path d="M382.2 1745.8L390.45 1762.3L373.95 1762.3Z" fill="none" stroke="#000" stroke-width="1.9" stroke-linejoin="miter"/>
<path d="M430.52 1729.64L438.77 1746.14L422.27 1746.14Z" fill="none" stroke="#000" stroke-width="1.9" stroke-linejoin="miter"/>
<path d="M478.84 1719.32L487.09 1735.82L470.59 1735.82Z" fill="none" stroke="#000" stroke-width="1.9" stroke-linejoin="miter"/>
<path d="M527.15 1691.8L535.4 1708.3L518.9 1708.3Z" fill="none" stroke="#000" stroke-width="1.9" stroke-linejoin="miter"/>
<path d="M575.47 1678.95L583.72 1695.45L567.22 1695.45Z" fill="none" stroke="#000" stroke-width="1.9" stroke-linejoin="miter"/>
<path d="M140.62 1867.72V1872.94M136.62 1867.72h8M136.62 1872.94h8M164.78 1841.59V1849.3M160.78 1841.59h8M160.78 1849.3h8M188.93 1800.9V1812.48M184.93 1800.9h8M184.93 1812.48h8M237.25 1756.95V1772.72M233.25 1756.95h8M233.25 1772.72h8M285.57 1737.08V1754.74M281.57 1737.08h8M281.57 1754.74h8M333.89 1716.62V1736.22M329.89 1716.62h8M329.89 1736.22h8M382.2 1698.19V1719.56M378.2 1698.19h8M378.2 1719.56h8M430.52 1675.68V1699.19M426.52 1675.68h8M426.52 1699.19h8M478.84 1658.82V1683.94M474.84 1658.82h8M474.84 1683.94h8M527.15 1615.84V1645.05M523.15 1615.84h8M523.15 1645.05h8M575.47 1595.61V1626.75M571.47 1595.61h8M571.47 1626.75h8" fill="none" stroke="#747474" stroke-width="1.7"/>
<path d="M92.3 1922.5C100.35 1920.86 108.41 1926.26 116.46 1917.57C124.51 1908.87 132.56 1882.35 140.62 1870.33C148.67 1858.31 156.72 1856.05 164.78 1845.44C172.83 1834.84 176.85 1820.12 188.93 1806.69C201.01 1793.25 221.15 1774.96 237.25 1764.83C253.36 1754.7 269.46 1752.32 285.57 1745.91C301.67 1739.51 317.78 1732.59 333.89 1726.42C349.99 1720.25 366.1 1715.37 382.2 1708.88C398.31 1702.38 414.41 1693.68 430.52 1687.43C446.63 1681.18 462.73 1680.88 478.84 1671.38C494.94 1661.88 511.05 1640.48 527.15 1630.44C543.26 1620.41 559.37 1617.6 575.47 1611.18" fill="none" stroke="#000" stroke-width="1.81" stroke-linejoin="round"/>
<rect x="84.05" y="1914.25" width="16.5" height="16.5" fill="none" stroke="#000" stroke-width="1.9"/>
<rect x="108.21" y="1909.32" width="16.5" height="16.5" fill="none" stroke="#000" stroke-width="1.9"/>
<rect x="132.37" y="1862.08" width="16.5" height="16.5" fill="none" stroke="#000" stroke-width="1.9"/>
<rect x="156.53" y="1837.19" width="16.5" height="16.5" fill="none" stroke="#000" stroke-width="1.9"/>
<rect x="180.68" y="1798.44" width="16.5" height="16.5" fill="none" stroke="#000" stroke-width="1.9"/>
<rect x="229" y="1756.58" width="16.5" height="16.5" fill="none" stroke="#000" stroke-width="1.9"/>
<rect x="277.32" y="1737.66" width="16.5" height="16.5" fill="none" stroke="#000" stroke-width="1.9"/>
<rect x="325.64" y="1718.17" width="16.5" height="16.5" fill="none" stroke="#000" stroke-width="1.9"/>
<rect x="373.95" y="1700.63" width="16.5" height="16.5" fill="none" stroke="#000" stroke-width="1.9"/>
<rect x="422.27" y="1679.18" width="16.5" height="16.5" fill="none" stroke="#000" stroke-width="1.9"/>
<rect x="470.59" y="1663.13" width="16.5" height="16.5" fill="none" stroke="#000" stroke-width="1.9"/>
<rect x="518.9" y="1622.19" width="16.5" height="16.5" fill="none" stroke="#000" stroke-width="1.9"/>
<rect x="567.22" y="1602.93" width="16.5" height="16.5" fill="none" stroke="#000" stroke-width="1.9"/>
<path d="M140.62 1815.03V1834.57M136.62 1815.03h8M136.62 1834.57h8M164.78 1776.82V1803.3M160.78 1776.82h8M160.78 1803.3h8M188.93 1762.06V1791.23M184.93 1762.06h8M184.93 1791.23h8M237.25 1748.44V1780.08M233.25 1748.44h8M233.25 1780.08h8M285.57 1740.36V1773.48M281.57 1740.36h8M281.57 1773.48h8M333.89 1727.5V1762.95M329.89 1727.5h8M329.89 1762.95h8M382.2 1717.28V1754.59M378.2 1717.28h8M378.2 1754.59h8M430.52 1708.07V1747.06M426.52 1708.07h8M426.52 1747.06h8M478.84 1704.04V1743.76M474.84 1704.04h8M474.84 1743.76h8M527.15 1679.06V1723.32M523.15 1679.06h8M523.15 1723.32h8M575.47 1650.05V1699.59M571.47 1650.05h8M571.47 1699.59h8" fill="none" stroke="#747474" stroke-width="1.7"/>
<path d="M92.3 1922.5C104.38 1920.78 111.05 1930 116.46 1919.06C124.51 1902.78 132.56 1846.3 140.62 1824.8C148.04 1804.99 149.79 1805 164.78 1790.06C172.83 1782.03 176.85 1780.94 188.93 1776.64C201.01 1772.34 221.15 1767.55 237.25 1764.26C253.36 1760.97 269.46 1760.09 285.57 1756.92C301.67 1753.75 317.78 1748.72 333.89 1745.23C349.99 1741.73 366.1 1738.88 382.2 1735.94C398.31 1732.99 414.41 1729.57 430.52 1727.57C446.63 1725.56 462.73 1728.29 478.84 1723.9C494.94 1719.5 511.05 1709.37 527.15 1701.19C543.26 1693.01 559.37 1683.61 575.47 1674.82" fill="none" stroke="#000" stroke-width="2.83" stroke-linejoin="round"/>
<circle cx="92.3" cy="1922.5" r="8.25" fill="none" stroke="#000" stroke-width="1.9"/>
<circle cx="116.46" cy="1919.06" r="8.25" fill="none" stroke="#000" stroke-width="1.9"/>
<circle cx="140.62" cy="1824.8" r="8.25" fill="none" stroke="#000" stroke-width="1.9"/>
<circle cx="164.78" cy="1790.06" r="8.25" fill="none" stroke="#000" stroke-width="1.9"/>
<circle cx="188.93" cy="1776.64" r="8.25" fill="none" stroke="#000" stroke-width="1.9"/>
<circle cx="237.25" cy="1764.26" r="8.25" fill="none" stroke="#000" stroke-width="1.9"/>
<circle cx="285.57" cy="1756.92" r="8.25" fill="none" stroke="#000" stroke-width="1.9"/>
<circle cx="333.89" cy="1745.23" r="8.25" fill="none" stroke="#000" stroke-width="1.9"/>
<circle cx="382.2" cy="1735.94" r="8.25" fill="none" stroke="#000" stroke-width="1.9"/>
<circle cx="430.52" cy="1727.57" r="8.25" fill="none" stroke="#000" stroke-width="1.9"/>
<circle cx="478.84" cy="1723.9" r="8.25" fill="none" stroke="#000" stroke-width="1.9"/>
<circle cx="527.15" cy="1701.19" r="8.25" fill="none" stroke="#000" stroke-width="1.9"/>
<circle cx="575.47" cy="1674.82" r="8.25" fill="none" stroke="#000" stroke-width="1.9"/>
<path d="M92.3 1922.5C100.35 1922.12 108.41 1930.14 116.46 1921.35C124.51 1912.56 132.56 1883.32 140.62 1869.75C148.67 1856.18 156.72 1849.5 164.78 1839.94C172.83 1830.38 176.85 1819.3 188.93 1812.42C201.01 1805.54 221.15 1803.15 237.25 1798.66C253.36 1794.17 269.46 1789.03 285.57 1785.47C301.67 1781.92 317.78 1780.39 333.89 1777.33C349.99 1774.27 366.1 1771.37 382.2 1767.13C398.31 1762.88 414.41 1755.87 430.52 1751.88C446.63 1747.88 462.73 1747.82 478.84 1743.16C494.94 1738.5 511.05 1728.27 527.15 1723.9C543.26 1719.52 559.37 1719.23 575.47 1716.9" fill="none" stroke="#000" stroke-width="1.81" stroke-linejoin="round"/>
<path d="M86.05 1916.25L98.55 1928.75M86.05 1928.75L98.55 1916.25M92.3 1916.25L92.3 1928.75" fill="none" stroke="#000" stroke-width="1.9"/>
<path d="M110.21 1915.1L122.71 1927.6M110.21 1927.6L122.71 1915.1M116.46 1915.1L116.46 1927.6" fill="none" stroke="#000" stroke-width="1.9"/>
<path d="M134.37 1863.5L146.87 1876M134.37 1876L146.87 1863.5M140.62 1863.5L140.62 1876" fill="none" stroke="#000" stroke-width="1.9"/>
<path d="M158.53 1833.69L171.03 1846.19M158.53 1846.19L171.03 1833.69M164.78 1833.69L164.78 1846.19" fill="none" stroke="#000" stroke-width="1.9"/>
<path d="M182.68 1806.17L195.18 1818.67M182.68 1818.67L195.18 1806.17M188.93 1806.17L188.93 1818.67" fill="none" stroke="#000" stroke-width="1.9"/>
<path d="M231 1792.41L243.5 1804.91M231 1804.91L243.5 1792.41M237.25 1792.41L237.25 1804.91" fill="none" stroke="#000" stroke-width="1.9"/>
<path d="M279.32 1779.22L291.82 1791.72M279.32 1791.72L291.82 1779.22M285.57 1779.22L285.57 1791.72" fill="none" stroke="#000" stroke-width="1.9"/>
<path d="M327.64 1771.08L340.14 1783.58M327.64 1783.58L340.14 1771.08M333.89 1771.08L333.89 1783.58" fill="none" stroke="#000" stroke-width="1.9"/>
<path d="M375.95 1760.88L388.45 1773.38M375.95 1773.38L388.45 1760.88M382.2 1760.88L382.2 1773.38" fill="none" stroke="#000" stroke-width="1.9"/>
<path d="M424.27 1745.63L436.77 1758.13M424.27 1758.13L436.77 1745.63M430.52 1745.63L430.52 1758.13" fill="none" stroke="#000" stroke-width="1.9"/>
<path d="M472.59 1736.91L485.09 1749.41M472.59 1749.41L485.09 1736.91M478.84 1736.91L478.84 1749.41" fill="none" stroke="#000" stroke-width="1.9"/>
<path d="M520.9 1717.65L533.4 1730.15M520.9 1730.15L533.4 1717.65M527.15 1717.65L527.15 1730.15" fill="none" stroke="#000" stroke-width="1.9"/>
<path d="M569.22 1710.65L581.72 1723.15M569.22 1723.15L581.72 1710.65M575.47 1710.65L575.47 1723.15" fill="none" stroke="#000" stroke-width="1.9"/>
<path d="M140.62 1902.03V1903.98M136.62 1902.03h8M136.62 1903.98h8M164.78 1882.05V1885.9M160.78 1882.05h8M160.78 1885.9h8M188.93 1860.61V1866.51M184.93 1860.61h8M184.93 1866.51h8M237.25 1830.63V1839.38M233.25 1830.63h8M233.25 1839.38h8M285.57 1802.22V1813.68M281.57 1802.22h8M281.57 1813.68h8M333.89 1778.26V1792M329.89 1778.26h8M329.89 1792h8M382.2 1757.79V1773.48M378.2 1757.79h8M378.2 1773.48h8M430.52 1736V1753.76M426.52 1736h8M426.52 1753.76h8M478.84 1720.59V1739.82M474.84 1720.59h8M474.84 1739.82h8M527.15 1677.25V1700.6M523.15 1677.25h8M523.15 1700.6h8M575.47 1678.33V1701.58M571.47 1678.33h8M571.47 1701.58h8" fill="none" stroke="#000" stroke-width="1.5"/>
<path d="M115.25 1921.35H117.67M115.25 1917.35v8M117.67 1917.35v8M138.2 1903.01H143.03M138.2 1899.01v8M143.03 1899.01v8M161.15 1883.97H168.4M161.15 1879.97v8M168.4 1879.97v8M184.1 1863.56H193.77M184.1 1859.56v8M193.77 1859.56v8M230 1835.01H244.5M230 1831.01v8M244.5 1831.01v8M275.91 1807.95H295.23M275.91 1803.95v8M295.23 1803.95v8M321.81 1785.13H345.97M321.81 1781.13v8M345.97 1781.13v8M367.71 1765.64H396.7M367.71 1761.64v8M396.7 1761.64v8M413.61 1744.88H447.43M413.61 1740.88v8M447.43 1740.88v8M459.51 1730.2H498.16M459.51 1726.2v8M498.16 1726.2v8M505.41 1688.92H548.9M505.41 1684.92v8M548.9 1684.92v8M551.31 1689.96H599.63M551.31 1685.96v8M599.63 1685.96v8" fill="none" stroke="#000" stroke-width="1.5"/>
<path d="M92.3 1922.5C100.35 1922.12 108.41 1924.6 116.46 1921.35C124.51 1918.1 132.56 1909.24 140.62 1903.01C148.67 1896.78 156.72 1890.55 164.78 1883.97C172.83 1877.4 176.85 1871.72 188.93 1863.56C201.01 1855.4 221.15 1844.28 237.25 1835.01C253.36 1825.74 269.46 1816.26 285.57 1807.95C301.67 1799.63 317.78 1792.18 333.89 1785.13C349.99 1778.08 366.1 1772.34 382.2 1765.64C398.31 1758.93 414.41 1750.79 430.52 1744.88C446.63 1738.98 462.73 1739.53 478.84 1730.2C494.94 1720.88 511.05 1695.63 527.15 1688.92C543.26 1682.22 559.37 1689.61 575.47 1689.96" fill="none" stroke="#000" stroke-width="1.81" stroke-linejoin="round"/>
<path d="M86.05 1922.5L98.55 1922.5M92.3 1916.25L92.3 1928.75" fill="none" stroke="#000" stroke-width="1.9"/>
<path d="M110.21 1921.35L122.71 1921.35M116.46 1915.1L116.46 1927.6" fill="none" stroke="#000" stroke-width="1.9"/>
<path d="M134.37 1903.01L146.87 1903.01M140.62 1896.76L140.62 1909.26" fill="none" stroke="#000" stroke-width="1.9"/>
<path d="M158.53 1883.97L171.03 1883.97M164.78 1877.72L164.78 1890.22" fill="none" stroke="#000" stroke-width="1.9"/>
<path d="M182.68 1863.56L195.18 1863.56M188.93 1857.31L188.93 1869.81" fill="none" stroke="#000" stroke-width="1.9"/>
<path d="M231 1835.01L243.5 1835.01M237.25 1828.76L237.25 1841.26" fill="none" stroke="#000" stroke-width="1.9"/>
<path d="M279.32 1807.95L291.82 1807.95M285.57 1801.7L285.57 1814.2" fill="none" stroke="#000" stroke-width="1.9"/>
<path d="M327.64 1785.13L340.14 1785.13M333.89 1778.88L333.89 1791.38" fill="none" stroke="#000" stroke-width="1.9"/>
<path d="M375.95 1765.64L388.45 1765.64M382.2 1759.39L382.2 1771.89" fill="none" stroke="#000" stroke-width="1.9"/>
<path d="M424.27 1744.88L436.77 1744.88M430.52 1738.63L430.52 1751.13" fill="none" stroke="#000" stroke-width="1.9"/>
<path d="M472.59 1730.2L485.09 1730.2M478.84 1723.95L478.84 1736.45" fill="none" stroke="#000" stroke-width="1.9"/>
<path d="M520.9 1688.92L533.4 1688.92M527.15 1682.67L527.15 1695.17" fill="none" stroke="#000" stroke-width="1.9"/>
<path d="M569.22 1689.96L581.72 1689.96M575.47 1683.71L575.47 1696.21" fill="none" stroke="#000" stroke-width="1.9"/>
<path d="M45.4 1526.7H80.9" stroke="#000" stroke-width="1.9"/>
<path d="M63.15 1521.5L68.35 1526.7L63.15 1531.9L57.95 1526.7Z" fill="none" stroke="#000" stroke-width="1.75"/>
<text transform="translate(83.4 1532.65) scale(1.045 1)" font-size="17.8">p(AG-g-GO)1</text>
<path d="M268.2 1526.7H303.7" stroke="#000" stroke-width="2.5"/>
<path d="M285.95 1521.4L291.25 1532L280.65 1532Z" fill="none" stroke="#000" stroke-width="1.75" stroke-linejoin="miter"/>
<text transform="translate(306.3 1532.65) scale(1.045 1)" font-size="17.8">p(AG-g-GO)2</text>
<path d="M491.5 1526.7H527" stroke="#000" stroke-width="1.9"/>
<rect x="504.05" y="1521.5" width="10.4" height="10.4" fill="none" stroke="#000" stroke-width="1.75"/>
<text transform="translate(529.8 1532.65) scale(1.045 1)" font-size="17.8">p(AG-g-GO)3</text>
<path d="M45.4 1556.7H80.9" stroke="#000" stroke-width="3.0"/>
<circle cx="63.15" cy="1556.7" r="5.2" fill="none" stroke="#000" stroke-width="1.75"/>
<text transform="translate(83.4 1562.65) scale(1.045 1)" font-size="17.8">p(AG-m-GO)1</text>
<path d="M268.2 1556.7H303.7" stroke="#000" stroke-width="1.9"/>
<path d="M280.85 1551.6L291.05 1561.8M280.85 1561.8L291.05 1551.6M285.95 1551.6L285.95 1561.8" fill="none" stroke="#000" stroke-width="1.75"/>
<text transform="translate(306.3 1562.65) scale(1.045 1)" font-size="17.8">p(AG-m-GO)2</text>
<path d="M491.5 1556.7H527" stroke="#000" stroke-width="1.9"/>
<path d="M504.05 1556.7L514.45 1556.7M509.25 1551.5L509.25 1561.9" fill="none" stroke="#000" stroke-width="1.75"/>
<text transform="translate(529.8 1562.65) scale(1.045 1)" font-size="17.8">p(AG-m-GO)3</text>
</g>
<g>
<path d="M94 2036H658.8V2435.6" fill="none" stroke="#111" stroke-width="1.6"/>
<path d="M94 2036V2435.6H658.8M94 2435.6h-7M94 2391.2h-7M94 2346.8h-7M94 2302.4h-7M94 2258h-7M94 2213.6h-7M94 2169.2h-7M94 2124.8h-7M94 2080.4h-7M94 2036h-7M94 2435.6v6.5M174.69 2435.6v6.5M255.37 2435.6v6.5M336.06 2435.6v6.5M416.74 2435.6v6.5M497.43 2435.6v6.5M578.11 2435.6v6.5M658.8 2435.6v6.5" fill="none" stroke="#000" stroke-width="1.8"/>
<text transform="translate(81.9 2443.05) scale(1.03 1)" font-size="28.5" text-anchor="end" class="tk">0</text>
<text transform="translate(81.9 2398.65) scale(1.03 1)" font-size="28.5" text-anchor="end" class="tk">10</text>
<text transform="translate(81.9 2354.25) scale(1.03 1)" font-size="28.5" text-anchor="end" class="tk">20</text>
<text transform="translate(81.9 2309.85) scale(1.03 1)" font-size="28.5" text-anchor="end" class="tk">30</text>
<text transform="translate(81.9 2265.45) scale(1.03 1)" font-size="28.5" text-anchor="end" class="tk">40</text>
<text transform="translate(81.9 2221.05) scale(1.03 1)" font-size="28.5" text-anchor="end" class="tk">50</text>
<text transform="translate(81.9 2176.65) scale(1.03 1)" font-size="28.5" text-anchor="end" class="tk">60</text>
<text transform="translate(81.9 2132.25) scale(1.03 1)" font-size="28.5" text-anchor="end" class="tk">70</text>
<text transform="translate(81.9 2087.85) scale(1.03 1)" font-size="28.5" text-anchor="end" class="tk">80</text>
<text transform="translate(81.9 2043.45) scale(1.03 1)" font-size="28.5" text-anchor="end" class="tk">90</text>
<text transform="translate(90.4 2468.6) scale(1.03 1)" font-size="28.5" text-anchor="middle" class="tk">0</text>
<text transform="translate(176.89 2468.6) scale(1.03 1)" font-size="28.5" text-anchor="middle" class="tk">100</text>
<text transform="translate(257.57 2468.6) scale(1.03 1)" font-size="28.5" text-anchor="middle" class="tk">200</text>
<text transform="translate(338.26 2468.6) scale(1.03 1)" font-size="28.5" text-anchor="middle" class="tk">300</text>
<text transform="translate(418.94 2468.6) scale(1.03 1)" font-size="28.5" text-anchor="middle" class="tk">400</text>
<text transform="translate(499.63 2468.6) scale(1.03 1)" font-size="28.5" text-anchor="middle" class="tk">500</text>
<text transform="translate(580.31 2468.6) scale(1.03 1)" font-size="28.5" text-anchor="middle" class="tk">600</text>
<text transform="translate(661 2468.6) scale(1.03 1)" font-size="28.5" text-anchor="middle" class="tk">700</text>
<text x="376.6" y="2505.8" font-size="33" font-weight="bold" text-anchor="middle">Time (min)</text>
<text transform="translate(28.6 2221.7) rotate(-90)" font-size="33.5" font-weight="bold" text-anchor="middle">Release of Carboplatin%</text>
<text x="627.6" y="2074.5" font-size="39.2" font-weight="bold">e</text>
<path d="M118.21 2420.95V2423.61M114.21 2420.95h8M114.21 2423.61h8M142.41 2405.81V2411.22M138.41 2405.81h8M138.41 2411.22h8M166.62 2391.64V2399.64M162.62 2391.64h8M162.62 2399.64h8M190.82 2374.06V2385.25M186.82 2374.06h8M186.82 2385.25h8M239.23 2355.5V2370.07M235.23 2355.5h8M235.23 2370.07h8M287.65 2340.85V2358.08M283.65 2340.85h8M283.65 2358.08h8M336.06 2326.69V2346.49M332.06 2326.69h8M332.06 2346.49h8M384.47 2307.64V2330.9M380.47 2307.64h8M380.47 2330.9h8M432.88 2297.87V2322.91M428.88 2297.87h8M428.88 2322.91h8M481.29 2286.15V2313.32M477.29 2286.15h8M477.29 2313.32h8M529.7 2274.92V2304.13M525.7 2274.92h8M525.7 2304.13h8M578.11 2263.19V2294.54M574.11 2263.19h8M574.11 2294.54h8" fill="none" stroke="#747474" stroke-width="1.7"/>
<path d="M94 2435.6C98.03 2433.38 102.07 2431.16 106.1 2428.94C112.15 2425.61 112.19 2425.67 118.21 2422.28C124.26 2418.88 134.34 2412.96 142.41 2408.52C150.48 2404.08 158.55 2400.45 166.62 2395.64C174.69 2390.83 178.72 2385.13 190.82 2379.66C202.93 2374.18 223.1 2367.82 239.23 2362.78C255.37 2357.75 271.51 2353.83 287.65 2349.46C303.78 2345.1 319.92 2341.62 336.06 2336.59C352.19 2331.56 368.33 2323.64 384.47 2319.27C400.61 2314.91 416.74 2313.65 432.88 2310.39C449.02 2307.14 465.15 2303.21 481.29 2299.74C497.43 2296.26 513.57 2293 529.7 2289.52C545.84 2286.05 561.98 2282.42 578.11 2278.87" fill="none" stroke="#000" stroke-width="3.11" stroke-linejoin="round"/>
<path d="M94 2428.6L101 2435.6L94 2442.6L87 2435.6Z" fill="none" stroke="#000" stroke-width="1.9"/>
<path d="M106.1 2421.94L113.1 2428.94L106.1 2435.94L99.1 2428.94Z" fill="none" stroke="#000" stroke-width="1.9"/>
<path d="M118.21 2415.28L125.21 2422.28L118.21 2429.28L111.21 2422.28Z" fill="none" stroke="#000" stroke-width="1.9"/>
<path d="M142.41 2401.52L149.41 2408.52L142.41 2415.52L135.41 2408.52Z" fill="none" stroke="#000" stroke-width="1.9"/>
<path d="M166.62 2388.64L173.62 2395.64L166.62 2402.64L159.62 2395.64Z" fill="none" stroke="#000" stroke-width="1.9"/>
<path d="M190.82 2372.66L197.82 2379.66L190.82 2386.66L183.82 2379.66Z" fill="none" stroke="#000" stroke-width="1.9"/>
<path d="M239.23 2355.78L246.23 2362.78L239.23 2369.78L232.23 2362.78Z" fill="none" stroke="#000" stroke-width="1.9"/>
<path d="M287.65 2342.46L294.65 2349.46L287.65 2356.46L280.65 2349.46Z" fill="none" stroke="#000" stroke-width="1.9"/>
<path d="M336.06 2329.59L343.06 2336.59L336.06 2343.59L329.06 2336.59Z" fill="none" stroke="#000" stroke-width="1.9"/>
<path d="M384.47 2312.27L391.47 2319.27L384.47 2326.27L377.47 2319.27Z" fill="none" stroke="#000" stroke-width="1.9"/>
<path d="M432.88 2303.39L439.88 2310.39L432.88 2317.39L425.88 2310.39Z" fill="none" stroke="#000" stroke-width="1.9"/>
<path d="M481.29 2292.74L488.29 2299.74L481.29 2306.74L474.29 2299.74Z" fill="none" stroke="#000" stroke-width="1.9"/>
<path d="M529.7 2282.52L536.7 2289.52L529.7 2296.52L522.7 2289.52Z" fill="none" stroke="#000" stroke-width="1.9"/>
<path d="M578.11 2271.87L585.11 2278.87L578.11 2285.87L571.11 2278.87Z" fill="none" stroke="#000" stroke-width="1.9"/>
<path d="M142.41 2417.88V2419.57M138.41 2417.88h8M138.41 2419.57h8M166.62 2408.56V2411.14M162.62 2408.56h8M162.62 2411.14h8M190.82 2396.44V2400.17M186.82 2396.44h8M186.82 2400.17h8M239.23 2375.93V2381.61M235.23 2375.93h8M235.23 2381.61h8M287.65 2353.08V2360.94M283.65 2353.08h8M283.65 2360.94h8M336.06 2336.3V2345.76M332.06 2336.3h8M332.06 2345.76h8M384.47 2314.85V2326.35M380.47 2314.85h8M380.47 2326.35h8M432.88 2304.13V2316.65M428.88 2304.13h8M428.88 2316.65h8M481.29 2292.94V2306.53M477.29 2292.94h8M477.29 2306.53h8M529.7 2278.49V2293.45M525.7 2278.49h8M525.7 2293.45h8M578.11 2265.44V2281.64M574.11 2265.44h8M574.11 2281.64h8" fill="none" stroke="#747474" stroke-width="1.7"/>
<path d="M94 2435.6C98.03 2434.12 102.07 2432.64 106.1 2431.16C110.14 2429.68 112.15 2428.79 118.21 2426.72C124.26 2424.65 134.34 2421.54 142.41 2418.73C150.48 2415.92 158.55 2413.25 166.62 2409.85C174.69 2406.44 178.72 2403.48 190.82 2398.3C202.93 2393.12 223.1 2385.65 239.23 2378.77C255.37 2371.89 271.51 2363.3 287.65 2357.01C303.78 2350.72 319.92 2347.1 336.06 2341.03C352.19 2334.96 368.33 2325.71 384.47 2320.6C400.61 2315.5 416.74 2313.87 432.88 2310.39C449.02 2306.91 465.15 2303.81 481.29 2299.74C497.43 2295.67 513.57 2290.34 529.7 2285.97C545.84 2281.61 561.98 2277.68 578.11 2273.54" fill="none" stroke="#000" stroke-width="3.11" stroke-linejoin="round"/>
<path d="M94 2427.6L102 2443.6L86 2443.6Z" fill="none" stroke="#000" stroke-width="1.9" stroke-linejoin="miter"/>
<path d="M106.1 2423.16L114.1 2439.16L98.1 2439.16Z" fill="none" stroke="#000" stroke-width="1.9" stroke-linejoin="miter"/>
<path d="M118.21 2418.72L126.21 2434.72L110.21 2434.72Z" fill="none" stroke="#000" stroke-width="1.9" stroke-linejoin="miter"/>
<path d="M142.41 2410.73L150.41 2426.73L134.41 2426.73Z" fill="none" stroke="#000" stroke-width="1.9" stroke-linejoin="miter"/>
<path d="M166.62 2401.85L174.62 2417.85L158.62 2417.85Z" fill="none" stroke="#000" stroke-width="1.9" stroke-linejoin="miter"/>
<path d="M190.82 2390.3L198.82 2406.3L182.82 2406.3Z" fill="none" stroke="#000" stroke-width="1.9" stroke-linejoin="miter"/>
<path d="M239.23 2370.77L247.23 2386.77L231.23 2386.77Z" fill="none" stroke="#000" stroke-width="1.9" stroke-linejoin="miter"/>
<path d="M287.65 2349.01L295.65 2365.01L279.65 2365.01Z" fill="none" stroke="#000" stroke-width="1.9" stroke-linejoin="miter"/>
<path d="M336.06 2333.03L344.06 2349.03L328.06 2349.03Z" fill="none" stroke="#000" stroke-width="1.9" stroke-linejoin="miter"/>
<path d="M384.47 2312.6L392.47 2328.6L376.47 2328.6Z" fill="none" stroke="#000" stroke-width="1.9" stroke-linejoin="miter"/>
<path d="M432.88 2302.39L440.88 2318.39L424.88 2318.39Z" fill="none" stroke="#000" stroke-width="1.9" stroke-linejoin="miter"/>
<path d="M481.29 2291.74L489.29 2307.74L473.29 2307.74Z" fill="none" stroke="#000" stroke-width="1.9" stroke-linejoin="miter"/>
<path d="M529.7 2277.97L537.7 2293.97L521.7 2293.97Z" fill="none" stroke="#000" stroke-width="1.9" stroke-linejoin="miter"/>
<path d="M578.11 2265.54L586.11 2281.54L570.11 2281.54Z" fill="none" stroke="#000" stroke-width="1.9" stroke-linejoin="miter"/>
<path d="M118.21 2414.15V2416.2M114.21 2414.15h8M114.21 2416.2h8M142.41 2395.04V2398.9M138.41 2395.04h8M138.41 2398.9h8M166.62 2379.66V2384.98M162.62 2379.66h8M162.62 2384.98h8M190.82 2356.81V2364.32M186.82 2356.81h8M186.82 2364.32h8M239.23 2339.1V2348.29M235.23 2339.1h8M235.23 2348.29h8M287.65 2320.91V2331.84M283.65 2320.91h8M283.65 2331.84h8M336.06 2302.73V2315.39M332.06 2302.73h8M332.06 2315.39h8M384.47 2285.95V2300.2M380.47 2285.95h8M380.47 2300.2h8M432.88 2266.84V2282.91M428.88 2266.84h8M428.88 2282.91h8M481.29 2243.53V2261.82M477.29 2243.53h8M477.29 2261.82h8M529.7 2222.55V2242.84M525.7 2222.55h8M525.7 2242.84h8M578.11 2149.35V2176.61M574.11 2149.35h8M574.11 2176.61h8" fill="none" stroke="#747474" stroke-width="1.7"/>
<path d="M94 2435.6C98.03 2432.2 102.07 2428.79 106.1 2425.39C110.14 2421.98 112.15 2419.91 118.21 2415.18C124.26 2410.44 134.34 2402.45 142.41 2396.97C150.48 2391.5 158.55 2388.39 166.62 2382.32C174.69 2376.25 178.72 2367 190.82 2360.56C202.93 2354.13 223.1 2349.39 239.23 2343.69C255.37 2337.99 271.51 2332.15 287.65 2326.38C303.78 2320.6 319.92 2314.61 336.06 2309.06C352.19 2303.51 368.33 2298.77 384.47 2293.08C400.61 2287.38 416.74 2281.61 432.88 2274.87C449.02 2268.14 465.15 2259.7 481.29 2252.67C497.43 2245.64 513.57 2247.64 529.7 2232.69C545.84 2217.74 561.98 2186.22 578.11 2162.98" fill="none" stroke="#000" stroke-width="3" stroke-linejoin="round"/>
<path d="M94 2427.6L102 2443.6L86 2443.6Z" fill="none" stroke="#000" stroke-width="1.9" stroke-linejoin="miter"/>
<path d="M106.1 2417.39L114.1 2433.39L98.1 2433.39Z" fill="none" stroke="#000" stroke-width="1.9" stroke-linejoin="miter"/>
<path d="M118.21 2407.18L126.21 2423.18L110.21 2423.18Z" fill="none" stroke="#000" stroke-width="1.9" stroke-linejoin="miter"/>
<path d="M142.41 2388.97L150.41 2404.97L134.41 2404.97Z" fill="none" stroke="#000" stroke-width="1.9" stroke-linejoin="miter"/>
<path d="M166.62 2374.32L174.62 2390.32L158.62 2390.32Z" fill="none" stroke="#000" stroke-width="1.9" stroke-linejoin="miter"/>
<path d="M190.82 2352.56L198.82 2368.56L182.82 2368.56Z" fill="none" stroke="#000" stroke-width="1.9" stroke-linejoin="miter"/>
<path d="M239.23 2335.69L247.23 2351.69L231.23 2351.69Z" fill="none" stroke="#000" stroke-width="1.9" stroke-linejoin="miter"/>
<path d="M287.65 2318.38L295.65 2334.38L279.65 2334.38Z" fill="none" stroke="#000" stroke-width="1.9" stroke-linejoin="miter"/>
<path d="M336.06 2301.06L344.06 2317.06L328.06 2317.06Z" fill="none" stroke="#000" stroke-width="1.9" stroke-linejoin="miter"/>
<path d="M384.47 2285.08L392.47 2301.08L376.47 2301.08Z" fill="none" stroke="#000" stroke-width="1.9" stroke-linejoin="miter"/>
<path d="M432.88 2266.87L440.88 2282.87L424.88 2282.87Z" fill="none" stroke="#000" stroke-width="1.9" stroke-linejoin="miter"/>
<path d="M481.29 2244.67L489.29 2260.67L473.29 2260.67Z" fill="none" stroke="#000" stroke-width="1.9" stroke-linejoin="miter"/>
<path d="M529.7 2224.69L537.7 2240.69L521.7 2240.69Z" fill="none" stroke="#000" stroke-width="1.9" stroke-linejoin="miter"/>
<path d="M578.11 2154.98L586.11 2170.98L570.11 2170.98Z" fill="none" stroke="#000" stroke-width="1.9" stroke-linejoin="miter"/>
<path d="M142.41 2413.22V2415.35M138.41 2413.22h8M138.41 2415.35h8M166.62 2402.5V2405.65M162.62 2402.5h8M162.62 2405.65h8M190.82 2393.64V2397.64M186.82 2393.64h8M186.82 2397.64h8M239.23 2372.66V2378.66M235.23 2372.66h8M235.23 2378.66h8M287.65 2349.82V2357.99M283.65 2349.82h8M283.65 2357.99h8M336.06 2334.9V2344.49M332.06 2334.9h8M332.06 2344.49h8M384.47 2311.59V2323.4M380.47 2311.59h8M380.47 2323.4h8M432.88 2302.27V2314.97M428.88 2302.27h8M428.88 2314.97h8M481.29 2291.08V2304.84M477.29 2291.08h8M477.29 2304.84h8M529.7 2273.83V2289.24M525.7 2273.83h8M525.7 2289.24h8M578.11 2263.57V2279.96M574.11 2263.57h8M574.11 2279.96h8" fill="none" stroke="#747474" stroke-width="1.7"/>
<path d="M94 2435.6C98.03 2433.82 102.07 2432.12 106.1 2430.27C110.14 2428.42 112.15 2427.16 118.21 2424.5C124.26 2421.84 134.34 2417.69 142.41 2414.29C150.48 2410.88 158.55 2407.18 166.62 2404.08C178.58 2399.47 178.89 2400.31 190.82 2395.64C202.93 2390.9 223.1 2382.62 239.23 2375.66C255.37 2368.7 271.51 2359.9 287.65 2353.9C303.78 2347.91 319.92 2345.76 336.06 2339.7C352.19 2333.63 368.33 2322.68 384.47 2317.5C400.61 2312.32 416.74 2311.87 432.88 2308.62C449.02 2305.36 465.15 2302.47 481.29 2297.96C497.43 2293.45 513.57 2285.9 529.7 2281.53C545.84 2277.17 561.98 2275.02 578.11 2271.76" fill="none" stroke="#000" stroke-width="1.93" stroke-linejoin="round"/>
<rect x="87.5" y="2429.1" width="13" height="13" fill="none" stroke="#000" stroke-width="1.9"/>
<rect x="99.6" y="2423.77" width="13" height="13" fill="none" stroke="#000" stroke-width="1.9"/>
<rect x="111.71" y="2418" width="13" height="13" fill="none" stroke="#000" stroke-width="1.9"/>
<rect x="135.91" y="2407.79" width="13" height="13" fill="none" stroke="#000" stroke-width="1.9"/>
<rect x="160.12" y="2397.58" width="13" height="13" fill="none" stroke="#000" stroke-width="1.9"/>
<rect x="184.32" y="2389.14" width="13" height="13" fill="none" stroke="#000" stroke-width="1.9"/>
<rect x="232.73" y="2369.16" width="13" height="13" fill="none" stroke="#000" stroke-width="1.9"/>
<rect x="281.15" y="2347.4" width="13" height="13" fill="none" stroke="#000" stroke-width="1.9"/>
<rect x="329.56" y="2333.2" width="13" height="13" fill="none" stroke="#000" stroke-width="1.9"/>
<rect x="377.97" y="2311" width="13" height="13" fill="none" stroke="#000" stroke-width="1.9"/>
<rect x="426.38" y="2302.12" width="13" height="13" fill="none" stroke="#000" stroke-width="1.9"/>
<rect x="474.79" y="2291.46" width="13" height="13" fill="none" stroke="#000" stroke-width="1.9"/>
<rect x="523.2" y="2275.03" width="13" height="13" fill="none" stroke="#000" stroke-width="1.9"/>
<rect x="571.61" y="2265.26" width="13" height="13" fill="none" stroke="#000" stroke-width="1.9"/>
<path d="M106.1 2412.29V2414.51M102.1 2412.29h8M102.1 2414.51h8M118.21 2389.45V2393.84M114.21 2389.45h8M114.21 2393.84h8M142.41 2361.01V2368.11M138.41 2361.01h8M138.41 2368.11h8M166.62 2333.04V2342.8M162.62 2333.04h8M162.62 2342.8h8M190.82 2295.74V2309.06M186.82 2295.74h8M186.82 2309.06h8M239.23 2272.9V2288.39M235.23 2272.9h8M235.23 2288.39h8M287.65 2249.12V2266.88M283.65 2249.12h8M283.65 2266.88h8M336.06 2218.82V2239.46M332.06 2218.82h8M332.06 2239.46h8M384.47 2181.05V2205.3M380.47 2181.05h8M380.47 2205.3h8M432.88 2154.95V2181.68M428.88 2154.95h8M428.88 2181.68h8M481.29 2128.84V2158.06M477.29 2128.84h8M477.29 2158.06h8M529.7 2101.33V2133.17M525.7 2101.33h8M525.7 2133.17h8M578.11 2096.21V2128.53M574.11 2096.21h8M574.11 2128.53h8" fill="none" stroke="#000" stroke-width="1.5"/>
<path d="M94 2435.6C98.03 2428.2 102.07 2420.73 106.1 2413.4C110.14 2406.07 112.15 2399.78 118.21 2391.64C124.26 2383.5 134.34 2373.51 142.41 2364.56C150.48 2355.61 158.55 2348.28 166.62 2337.92C174.69 2327.56 178.72 2311.95 190.82 2302.4C202.93 2292.85 223.1 2288.04 239.23 2280.64C255.37 2273.24 271.51 2266.58 287.65 2258C303.78 2249.42 319.92 2239.94 336.06 2229.14C352.19 2218.34 368.33 2203.31 384.47 2193.18C400.61 2183.04 416.74 2176.6 432.88 2168.31C449.02 2160.02 465.15 2151.96 481.29 2143.45C497.43 2134.94 513.57 2122.43 529.7 2117.25C545.84 2112.07 561.98 2114 578.11 2112.37" fill="none" stroke="#000" stroke-width="1.81" stroke-linejoin="round"/>
<path d="M87.75 2429.35L100.25 2441.85M87.75 2441.85L100.25 2429.35M94 2429.35L94 2441.85" fill="none" stroke="#000" stroke-width="1.9"/>
<path d="M99.85 2407.15L112.35 2419.65M99.85 2419.65L112.35 2407.15M106.1 2407.15L106.1 2419.65" fill="none" stroke="#000" stroke-width="1.9"/>
<path d="M111.96 2385.39L124.46 2397.89M111.96 2397.89L124.46 2385.39M118.21 2385.39L118.21 2397.89" fill="none" stroke="#000" stroke-width="1.9"/>
<path d="M136.16 2358.31L148.66 2370.81M136.16 2370.81L148.66 2358.31M142.41 2358.31L142.41 2370.81" fill="none" stroke="#000" stroke-width="1.9"/>
<path d="M160.37 2331.67L172.87 2344.17M160.37 2344.17L172.87 2331.67M166.62 2331.67L166.62 2344.17" fill="none" stroke="#000" stroke-width="1.9"/>
<path d="M184.57 2296.15L197.07 2308.65M184.57 2308.65L197.07 2296.15M190.82 2296.15L190.82 2308.65" fill="none" stroke="#000" stroke-width="1.9"/>
<path d="M232.98 2274.39L245.48 2286.89M232.98 2286.89L245.48 2274.39M239.23 2274.39L239.23 2286.89" fill="none" stroke="#000" stroke-width="1.9"/>
<path d="M281.4 2251.75L293.9 2264.25M281.4 2264.25L293.9 2251.75M287.65 2251.75L287.65 2264.25" fill="none" stroke="#000" stroke-width="1.9"/>
<path d="M329.81 2222.89L342.31 2235.39M329.81 2235.39L342.31 2222.89M336.06 2222.89L336.06 2235.39" fill="none" stroke="#000" stroke-width="1.9"/>
<path d="M378.22 2186.93L390.72 2199.43M378.22 2199.43L390.72 2186.93M384.47 2186.93L384.47 2199.43" fill="none" stroke="#000" stroke-width="1.9"/>
<path d="M426.63 2162.06L439.13 2174.56M426.63 2174.56L439.13 2162.06M432.88 2162.06L432.88 2174.56" fill="none" stroke="#000" stroke-width="1.9"/>
<path d="M475.04 2137.2L487.54 2149.7M475.04 2149.7L487.54 2137.2M481.29 2137.2L481.29 2149.7" fill="none" stroke="#000" stroke-width="1.9"/>
<path d="M523.45 2111L535.95 2123.5M523.45 2123.5L535.95 2111M529.7 2111L529.7 2123.5" fill="none" stroke="#000" stroke-width="1.9"/>
<path d="M571.86 2106.12L584.36 2118.62M571.86 2118.62L584.36 2106.12M578.11 2106.12L578.11 2118.62" fill="none" stroke="#000" stroke-width="1.9"/>
<path d="M118.21 2406.7V2409.45M114.21 2406.7h8M114.21 2409.45h8M142.41 2369.87V2376.13M138.41 2369.87h8M138.41 2376.13h8M166.62 2356.81V2364.32M162.62 2356.81h8M162.62 2364.32h8M190.82 2341.43V2350.4M186.82 2341.43h8M186.82 2350.4h8M239.23 2307.86V2320.03M235.23 2307.86h8M235.23 2320.03h8M287.65 2275.69V2290.92M283.65 2275.69h8M283.65 2290.92h8M336.06 2261.24V2277.85M332.06 2261.24h8M332.06 2277.85h8M384.47 2242.59V2260.97M380.47 2242.59h8M380.47 2260.97h8M432.88 2223.95V2244.1M428.88 2223.95h8M428.88 2244.1h8M481.29 2205.76V2227.65M477.29 2205.76h8M477.29 2227.65h8M529.7 2192.24V2215.42M525.7 2192.24h8M525.7 2215.42h8M578.11 2183.39V2207.41M574.11 2183.39h8M574.11 2207.41h8" fill="none" stroke="#000" stroke-width="1.5"/>
<path d="M94 2435.6C98.03 2430.72 102.07 2425.54 106.1 2420.95C111.94 2414.31 112.87 2415.12 118.21 2408.07C124.26 2400.08 134.34 2380.91 142.41 2373C150.48 2365.08 158.55 2365.08 166.62 2360.56C178.96 2353.66 178.92 2353.56 190.82 2345.91C202.93 2338.14 223.1 2324.38 239.23 2313.94C255.37 2303.51 271.51 2290.71 287.65 2283.31C303.78 2275.91 319.92 2274.8 336.06 2269.54C352.19 2264.29 368.33 2257.7 384.47 2251.78C400.61 2245.86 416.74 2239.87 432.88 2234.02C449.02 2228.18 465.15 2221.74 481.29 2216.71C497.43 2211.68 513.57 2207.38 529.7 2203.83C545.84 2200.28 561.98 2198.21 578.11 2195.4" fill="none" stroke="#000" stroke-width="1.81" stroke-linejoin="round"/>
<circle cx="94" cy="2435.6" r="6.25" fill="none" stroke="#000" stroke-width="1.9"/>
<circle cx="106.1" cy="2420.95" r="6.25" fill="none" stroke="#000" stroke-width="1.9"/>
<circle cx="118.21" cy="2408.07" r="6.25" fill="none" stroke="#000" stroke-width="1.9"/>
<circle cx="142.41" cy="2373" r="6.25" fill="none" stroke="#000" stroke-width="1.9"/>
<circle cx="166.62" cy="2360.56" r="6.25" fill="none" stroke="#000" stroke-width="1.9"/>
<circle cx="190.82" cy="2345.91" r="6.25" fill="none" stroke="#000" stroke-width="1.9"/>
<circle cx="239.23" cy="2313.94" r="6.25" fill="none" stroke="#000" stroke-width="1.9"/>
<circle cx="287.65" cy="2283.31" r="6.25" fill="none" stroke="#000" stroke-width="1.9"/>
<circle cx="336.06" cy="2269.54" r="6.25" fill="none" stroke="#000" stroke-width="1.9"/>
<circle cx="384.47" cy="2251.78" r="6.25" fill="none" stroke="#000" stroke-width="1.9"/>
<circle cx="432.88" cy="2234.02" r="6.25" fill="none" stroke="#000" stroke-width="1.9"/>
<circle cx="481.29" cy="2216.71" r="6.25" fill="none" stroke="#000" stroke-width="1.9"/>
<circle cx="529.7" cy="2203.83" r="6.25" fill="none" stroke="#000" stroke-width="1.9"/>
<circle cx="578.11" cy="2195.4" r="6.25" fill="none" stroke="#000" stroke-width="1.9"/>
<path d="M137.3 2053.7H172.3" stroke="#000" stroke-width="3.0"/>
<path d="M154.8 2048.8L159.7 2053.7L154.8 2058.6L149.9 2053.7Z" fill="none" stroke="#000" stroke-width="1.75"/>
<text transform="translate(175.8 2059.65) scale(1.045 1)" font-size="17.8">p(AG-m-GO)1</text>
<path d="M137.3 2082.6H172.3" stroke="#000" stroke-width="3.0"/>
<path d="M154.8 2077.2L160.2 2088L149.4 2088Z" fill="none" stroke="#000" stroke-width="1.75" stroke-linejoin="miter"/>
<text transform="translate(175.8 2088.55) scale(1.045 1)" font-size="17.8">p(AG-m-GO)2</text>
<path d="M137.3 2112H172.3" stroke="#000" stroke-width="2.8"/>
<path d="M154.8 2106.6L160.2 2117.4L149.4 2117.4Z" fill="none" stroke="#000" stroke-width="1.75" stroke-linejoin="miter"/>
<text transform="translate(175.8 2117.95) scale(1.045 1)" font-size="17.8">p(AG-m-GO)3</text>
<path d="M137.3 2140.5H172.3" stroke="#000" stroke-width="1.8"/>
<rect x="149.7" y="2135.4" width="10.2" height="10.2" fill="none" stroke="#000" stroke-width="1.75"/>
<text transform="translate(175.8 2146.45) scale(1.045 1)" font-size="17.8">p(AG-g-GO)1</text>
<path d="M137.3 2169.8H172.3" stroke="#000" stroke-width="1.6"/>
<path d="M149.8 2164.8L159.8 2174.8M149.8 2174.8L159.8 2164.8M154.8 2164.8L154.8 2174.8" fill="none" stroke="#000" stroke-width="1.75"/>
<text transform="translate(175.8 2175.75) scale(1.045 1)" font-size="17.8">p(AG-g-GO)2</text>
<path d="M137.3 2198.7H172.3" stroke="#000" stroke-width="1.6"/>
<circle cx="154.8" cy="2198.7" r="5.1" fill="none" stroke="#000" stroke-width="1.75"/>
<text transform="translate(175.8 2204.65) scale(1.045 1)" font-size="17.8">p(AG-g-GO)3</text>
</g>
</svg></body></html>
